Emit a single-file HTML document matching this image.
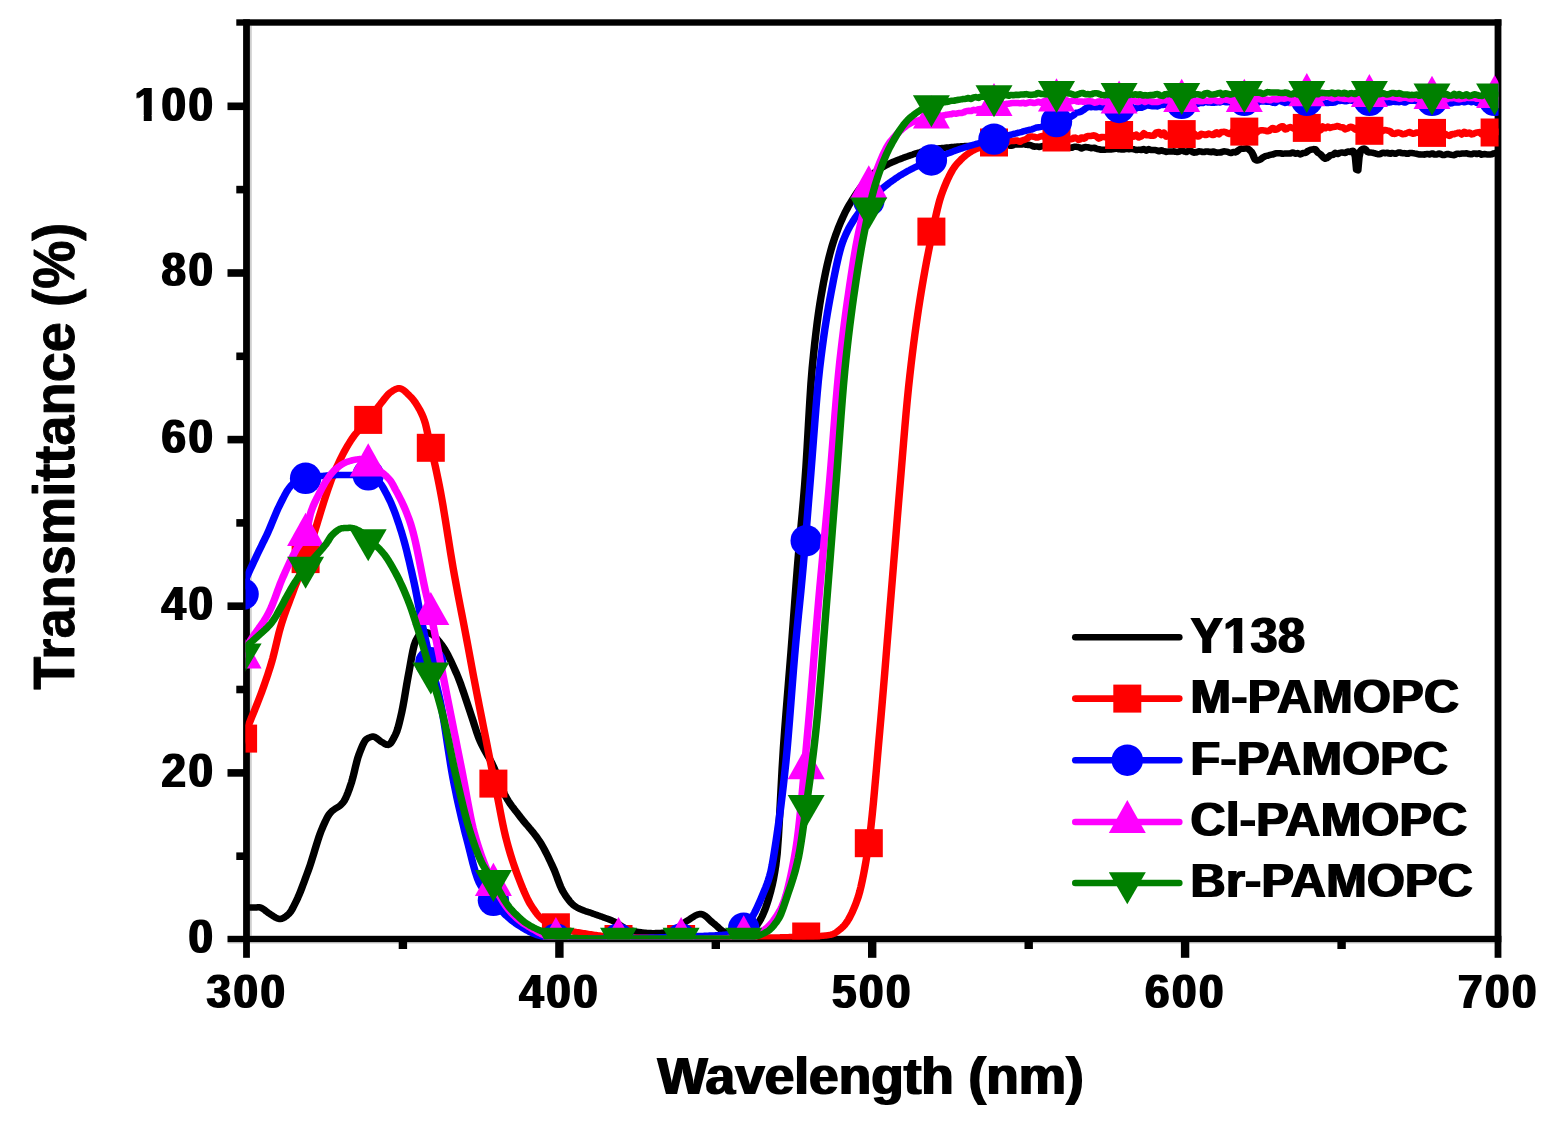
<!DOCTYPE html>
<html lang="en"><head><meta charset="utf-8"><title>Transmittance vs Wavelength</title>
<style>html,body{margin:0;padding:0;background:#fff;}body{width:1551px;height:1141px;overflow:hidden;}svg{display:block;}text{font-family:"Liberation Sans",sans-serif;font-weight:bold;fill:#000;stroke:#000;stroke-linejoin:round;stroke-width:0;}</style></head><body>
<svg width="1551" height="1141" viewBox="0 0 1551 1141">
<rect width="1551" height="1141" fill="#fff"/>
<defs>
<clipPath id="pa"><rect x="245.5" y="22.5" width="1253.1" height="916.9"/></clipPath>
<filter id="hb" x="-5%" y="-30%" width="110%" height="160%"><feMorphology operator="dilate" radius="1 0"/></filter>
</defs>
<rect x="249.9" y="25.7" width="1.9" height="910.1" fill="#cfcfcf"/>
<rect x="227.5" y="942.2" width="1273.9" height="1.6" fill="#dedede"/>
<g fill="#000">
<rect x="243.1" y="19.3" width="6.8" height="938.5"/>
<rect x="1494.6" y="19.3" width="6.8" height="938.5"/>
<rect x="236.3" y="19.3" width="1265.1" height="6.4"/>
<rect x="227.5" y="935.8" width="1273.9" height="6.4"/>
<rect x="236.3" y="852.4" width="7.8" height="7.6"/>
<rect x="227.5" y="769.1" width="16.6" height="7.6"/>
<rect x="236.3" y="685.7" width="7.8" height="7.6"/>
<rect x="227.5" y="602.4" width="16.6" height="7.6"/>
<rect x="236.3" y="519.1" width="7.8" height="7.6"/>
<rect x="227.5" y="435.8" width="16.6" height="7.6"/>
<rect x="236.3" y="352.5" width="7.8" height="7.6"/>
<rect x="227.5" y="269.2" width="16.6" height="7.6"/>
<rect x="236.3" y="185.8" width="7.8" height="7.6"/>
<rect x="227.5" y="102.5" width="16.6" height="7.6"/>
<rect x="398.7" y="941.2" width="8.4" height="7.8"/>
<rect x="555.2" y="941.2" width="8.4" height="16.6"/>
<rect x="711.6" y="941.2" width="8.4" height="7.8"/>
<rect x="868.0" y="941.2" width="8.4" height="16.6"/>
<rect x="1024.5" y="941.2" width="8.4" height="7.8"/>
<rect x="1180.9" y="941.2" width="8.4" height="16.6"/>
<rect x="1337.4" y="941.2" width="8.4" height="7.8"/>
</g>
<g clip-path="url(#pa)">
<g>
<path transform="scale(1.150 1)" d="M208.91,909.0 L209.99,908.7 L211.08,908.4 L212.17,908.1 L213.26,907.9 L214.35,907.8 L215.44,907.7 L216.52,907.6 L217.61,907.6 L218.70,907.5 L219.79,907.5 L220.88,907.4 L221.97,907.4 L223.05,907.4 L224.14,907.3 L225.23,907.3 L226.32,907.5 L227.41,908.0 L228.50,908.7 L229.58,909.6 L230.67,910.5 L231.76,911.6 L232.85,912.5 L233.94,913.4 L235.02,914.2 L236.11,914.9 L237.20,915.8 L238.29,916.6 L239.38,917.4 L240.47,918.1 L241.55,918.6 L242.64,918.9 L243.73,919.0 L244.82,918.8 L245.91,918.3 L247.00,917.7 L248.08,916.8 L249.17,915.9 L250.26,914.8 L251.35,913.7 L252.44,912.2 L253.53,910.2 L254.61,908.0 L255.70,905.5 L256.79,903.0 L257.88,900.4 L258.97,897.7 L260.05,894.8 L261.14,891.8 L262.23,888.6 L263.32,885.3 L264.41,882.0 L265.50,878.6 L266.58,875.1 L267.67,871.7 L268.76,868.2 L269.85,864.6 L270.94,860.7 L272.03,856.7 L273.11,852.6 L274.20,848.4 L275.29,844.3 L276.38,840.3 L277.47,836.5 L278.56,833.0 L279.64,829.8 L280.73,826.8 L281.82,824.0 L282.91,821.2 L284.00,818.7 L285.08,816.4 L286.17,814.4 L287.26,812.8 L288.35,811.5 L289.44,810.4 L290.53,809.5 L291.61,808.7 L292.70,807.9 L293.79,807.1 L294.88,806.3 L295.97,805.3 L297.06,804.1 L298.14,802.7 L299.23,801.0 L300.32,798.7 L301.41,795.9 L302.50,792.8 L303.59,789.4 L304.67,785.8 L305.76,782.1 L306.85,777.6 L307.94,772.5 L309.03,767.2 L310.11,762.2 L311.20,757.6 L312.29,754.0 L313.38,750.8 L314.47,747.6 L315.56,744.7 L316.64,742.2 L317.73,740.2 L318.82,739.0 L319.91,738.3 L321.00,737.6 L322.09,737.1 L323.17,736.7 L324.26,736.5 L325.35,736.7 L326.44,737.3 L327.53,738.1 L328.62,739.2 L329.70,740.2 L330.79,741.2 L331.88,741.9 L332.97,742.7 L334.06,743.5 L335.14,744.2 L336.23,744.7 L337.32,744.9 L338.41,744.5 L339.50,743.4 L340.59,741.7 L341.67,739.6 L342.76,737.2 L343.85,734.7 L344.94,731.8 L346.03,727.9 L347.12,723.2 L348.20,718.1 L349.29,712.7 L350.38,706.4 L351.47,699.4 L352.56,692.0 L353.65,684.5 L354.73,677.4 L355.82,670.8 L356.91,663.8 L358.00,656.8 L359.09,650.4 L360.17,645.1 L361.26,641.6 L362.35,639.1 L363.44,636.8 L364.53,634.8 L365.62,633.2 L366.70,632.1 L367.79,631.6 L368.88,631.6 L369.97,631.8 L371.06,632.2 L372.15,632.6 L373.23,633.2 L374.32,633.8 L375.41,634.4 L376.50,635.2 L377.59,636.2 L378.68,637.4 L379.76,638.7 L380.85,640.2 L381.94,641.7 L383.03,643.3 L384.12,644.9 L385.20,646.7 L386.29,648.6 L387.38,650.7 L388.47,652.9 L389.56,655.2 L390.65,657.7 L391.73,660.2 L392.82,662.9 L393.91,665.6 L395.00,668.4 L396.09,671.2 L397.18,674.0 L398.26,677.0 L399.35,680.2 L400.44,683.6 L401.53,687.1 L402.62,690.7 L403.71,694.4 L404.79,698.1 L405.88,701.9 L406.97,705.7 L408.06,709.4 L409.15,713.1 L410.23,716.8 L411.32,720.7 L412.41,724.6 L413.50,728.5 L414.59,732.3 L415.68,735.9 L416.76,739.1 L417.85,742.0 L418.94,744.7 L420.03,747.2 L421.12,749.5 L422.21,751.8 L423.29,754.0 L424.38,756.2 L425.47,758.4 L426.56,760.7 L427.65,763.1 L428.74,765.7 L429.82,768.5 L430.91,771.5 L432.00,774.7 L433.09,778.0 L434.18,781.3 L435.26,784.6 L436.35,787.8 L437.44,790.8 L438.53,793.7 L439.62,796.2 L440.71,798.4 L441.79,800.5 L442.88,802.4 L443.97,804.3 L445.06,806.0 L446.15,807.6 L447.24,809.3 L448.32,810.9 L449.41,812.4 L450.50,814.0 L451.59,815.7 L452.68,817.3 L453.77,818.9 L454.85,820.5 L455.94,822.0 L457.03,823.5 L458.12,824.9 L459.21,826.4 L460.29,827.9 L461.38,829.3 L462.47,830.8 L463.56,832.4 L464.65,834.0 L465.74,835.6 L466.82,837.3 L467.91,839.1 L469.00,840.9 L470.09,842.8 L471.18,844.9 L472.27,847.1 L473.35,849.4 L474.44,851.8 L475.53,854.3 L476.62,856.8 L477.71,859.4 L478.80,862.1 L479.88,864.8 L480.97,867.5 L482.06,870.3 L483.15,873.5 L484.24,876.8 L485.32,880.2 L486.41,883.5 L487.50,886.6 L488.59,889.4 L489.68,891.8 L490.77,893.8 L491.85,895.7 L492.94,897.5 L494.03,899.2 L495.12,900.8 L496.21,902.3 L497.30,903.6 L498.38,904.8 L499.47,905.8 L500.56,906.7 L501.65,907.5 L502.74,908.1 L503.83,908.8 L504.91,909.3 L506.00,909.8 L507.09,910.3 L508.18,910.8 L509.27,911.2 L510.35,911.6 L511.44,912.0 L512.53,912.4 L513.62,912.8 L514.71,913.2 L515.80,913.7 L516.88,914.1 L517.97,914.6 L519.06,915.0 L520.15,915.5 L521.24,915.9 L522.33,916.4 L523.41,916.8 L524.50,917.2 L525.59,917.7 L526.68,918.1 L527.77,918.6 L528.86,919.0 L529.94,919.5 L531.03,920.0 L532.12,920.5 L533.21,921.1 L534.30,921.7 L535.38,922.4 L536.47,923.2 L537.56,923.9 L538.65,924.7 L539.74,925.5 L540.83,926.3 L541.91,927.1 L543.00,927.9 L544.09,928.5 L545.18,929.2 L546.27,929.7 L547.36,930.2 L548.44,930.5 L549.53,930.8 L550.62,931.0 L551.71,931.2 L552.80,931.5 L553.89,931.7 L554.97,931.9 L556.06,932.1 L557.15,932.2 L558.24,932.4 L559.33,932.6 L560.41,932.7 L561.50,932.8 L562.59,932.9 L563.68,933.0 L564.77,933.1 L565.86,933.1 L566.94,933.2 L568.03,933.2 L569.12,933.2 L570.21,933.1 L571.30,933.1 L572.39,933.0 L573.47,933.0 L574.56,932.9 L575.65,932.8 L576.74,932.7 L577.83,932.5 L578.92,932.4 L580.00,932.2 L581.09,932.1 L582.18,931.9 L583.27,931.7 L584.36,931.5 L585.44,931.2 L586.53,930.6 L587.62,929.9 L588.71,928.9 L589.80,927.9 L590.89,926.8 L591.97,925.7 L593.06,924.6 L594.15,923.5 L595.24,922.6 L596.33,921.7 L597.42,920.9 L598.50,920.1 L599.59,919.3 L600.68,918.4 L601.77,917.6 L602.86,916.8 L603.95,916.0 L605.03,915.4 L606.12,914.8 L607.21,914.4 L608.30,914.1 L609.39,914.0 L610.47,914.2 L611.56,914.7 L612.65,915.4 L613.74,916.4 L614.83,917.4 L615.92,918.6 L617.00,919.8 L618.09,921.0 L619.18,922.2 L620.27,923.2 L621.36,924.1 L622.45,925.2 L623.53,926.3 L624.62,927.5 L625.71,928.6 L626.80,929.6 L627.89,930.6 L628.98,931.4 L630.06,932.0 L631.15,932.3 L632.24,932.6 L633.33,932.8 L634.42,933.0 L635.50,933.2 L636.59,933.4 L637.68,933.5 L638.77,933.7 L639.86,933.8 L640.95,933.9 L642.03,933.9 L643.12,934.0 L644.21,934.0 L645.30,933.9 L646.39,933.7 L647.48,933.4 L648.56,933.0 L649.65,932.5 L650.74,931.9 L651.83,931.3 L652.92,930.6 L654.01,929.8 L655.09,929.0 L656.18,928.0 L657.27,926.6 L658.36,924.9 L659.45,923.0 L660.53,920.9 L661.62,918.7 L662.71,916.2 L663.80,913.4 L664.89,910.4 L665.98,907.0 L667.06,903.3 L668.15,899.3 L669.24,895.0 L670.33,890.4 L671.42,885.3 L672.51,879.5 L673.59,872.6 L674.68,864.5 L675.77,854.0 L676.86,837.1 L677.95,815.5 L679.04,791.8 L680.12,768.5 L681.21,748.2 L682.30,730.9 L683.39,714.6 L684.48,699.0 L685.56,683.7 L686.65,668.5 L687.74,652.9 L688.83,636.7 L689.92,620.0 L691.01,603.1 L692.09,586.4 L693.18,570.2 L694.27,554.9 L695.36,540.9 L696.45,527.4 L697.54,514.0 L698.62,500.0 L699.71,484.8 L700.80,467.3 L701.89,446.8 L702.98,425.0 L704.07,403.5 L705.15,384.0 L706.24,368.3 L707.33,355.4 L708.42,343.6 L709.51,332.7 L710.59,322.6 L711.68,313.4 L712.77,304.9 L713.86,297.1 L714.95,289.9 L716.04,283.1 L717.12,276.7 L718.21,270.6 L719.30,264.9 L720.39,259.6 L721.48,254.6 L722.57,249.9 L723.65,245.6 L724.74,241.6 L725.83,237.9 L726.92,234.3 L728.01,230.9 L729.10,227.6 L730.18,224.5 L731.27,221.5 L732.36,218.7 L733.45,215.9 L734.54,213.3 L735.62,210.8 L736.71,208.5 L737.80,206.2 L738.89,204.0 L739.98,202.0 L741.07,199.9 L742.15,198.0 L743.24,196.0 L744.33,194.1 L745.42,192.3 L746.51,190.5 L747.60,188.7 L748.68,187.0 L749.77,185.4 L750.86,183.8 L751.95,182.2 L753.04,180.8 L754.13,179.3 L755.21,178.0 L756.30,176.7 L757.39,175.5 L758.48,174.4 L759.57,173.3 L760.65,172.3 L761.74,171.4 L762.83,170.6 L763.92,169.7 L765.01,168.9 L766.10,168.2 L767.18,167.4 L768.27,166.7 L769.36,166.0 L770.45,165.3 L771.54,164.7 L772.63,164.0 L773.71,163.4 L774.80,162.8 L775.89,162.3 L776.98,161.7 L778.07,161.2 L779.16,160.7 L780.24,160.1 L781.33,159.6 L782.42,159.2 L783.51,158.7 L784.60,158.2 L785.68,157.8 L786.77,157.3 L787.86,156.9 L788.95,156.4 L790.04,156.0 L791.13,155.5 L792.21,155.1 L793.30,154.7 L794.39,154.3 L795.48,153.8 L796.57,153.4 L797.66,153.0 L798.74,152.6 L799.83,152.3 L800.92,151.9 L802.01,151.5 L803.10,151.2 L804.19,150.9 L805.27,150.6 L806.36,150.3 L807.45,150.0 L808.54,149.8 L809.63,149.5 L810.71,149.3 L811.80,149.1 L812.89,149.0 L813.98,148.8 L815.07,148.7 L816.16,148.5 L817.24,148.3 L818.33,148.2 L819.42,148.0 L820.51,147.9 L821.60,147.8 L822.69,147.6 L823.77,147.5 L824.86,147.4 L825.95,147.3 L827.04,147.1 L828.13,147.0 L829.22,146.9 L830.30,146.8 L831.39,146.7 L832.48,146.6 L833.57,146.5 L834.66,146.4 L835.74,146.3 L836.83,146.3 L837.92,146.2 L839.01,146.1 L840.10,146.1 L841.19,146.0 L842.27,146.0 L843.36,146.0 L844.45,145.9 L845.54,145.9 L846.63,145.8 L847.72,145.7 L848.80,145.8 L849.89,145.9 L850.98,145.9 L852.07,145.9 L853.16,146.0 L854.25,146.0 L855.33,145.8 L856.42,145.6 L857.51,145.7 L858.60,145.7 L859.69,145.6 L860.77,145.5 L861.86,145.1 L862.95,144.8 L864.04,145.2 L865.13,145.6 L866.22,145.6 L867.30,145.6 L868.39,145.2 L869.48,144.8 L870.57,144.8 L871.66,144.8 L872.75,145.1 L873.83,145.3 L874.92,145.1 L876.01,145.1 L877.10,145.4 L878.19,145.7 L879.28,145.8 L880.36,145.6 L881.45,144.8 L882.54,144.3 L883.63,144.4 L884.72,144.5 L885.80,144.4 L886.89,144.4 L887.98,144.4 L889.07,144.4 L890.16,144.2 L891.25,144.2 L892.33,144.7 L893.42,144.9 L894.51,144.8 L895.60,144.9 L896.69,145.4 L897.78,146.0 L898.86,146.5 L899.95,146.7 L901.04,146.4 L902.13,146.4 L903.22,147.0 L904.31,147.0 L905.39,146.4 L906.48,146.1 L907.57,146.2 L908.66,146.4 L909.75,146.6 L910.83,146.9 L911.92,147.2 L913.01,147.1 L914.10,146.4 L915.19,146.5 L916.28,147.4 L917.36,147.6 L918.45,147.2 L919.54,147.0 L920.63,147.2 L921.72,147.3 L922.81,147.3 L923.89,147.2 L924.98,146.9 L926.07,147.0 L927.16,147.5 L928.25,147.6 L929.34,147.6 L930.42,147.7 L931.51,147.8 L932.60,147.5 L933.69,146.9 L934.78,146.7 L935.86,146.8 L936.95,146.9 L938.04,147.1 L939.13,147.7 L940.22,148.5 L941.31,148.2 L942.39,147.4 L943.48,147.1 L944.57,147.1 L945.66,147.3 L946.75,147.5 L947.84,147.8 L948.92,148.2 L950.01,148.1 L951.10,147.7 L952.19,148.0 L953.28,148.7 L954.37,149.0 L955.45,149.2 L956.54,149.5 L957.63,149.8 L958.72,149.8 L959.81,149.8 L960.89,149.7 L961.98,149.6 L963.07,149.5 L964.16,149.4 L965.25,149.4 L966.34,149.4 L967.42,149.3 L968.51,149.1 L969.60,148.8 L970.69,148.5 L971.78,148.8 L972.87,149.3 L973.95,149.3 L975.04,149.4 L976.13,149.4 L977.22,149.5 L978.31,149.1 L979.40,148.7 L980.48,148.9 L981.57,149.3 L982.66,149.1 L983.75,148.9 L984.84,149.1 L985.92,149.3 L987.01,149.7 L988.10,150.0 L989.19,149.9 L990.28,149.7 L991.37,149.8 L992.45,150.0 L993.54,149.5 L994.63,149.0 L995.72,149.8 L996.81,150.6 L997.90,149.8 L998.98,149.1 L1000.07,149.6 L1001.16,150.1 L1002.25,150.1 L1003.34,150.1 L1004.43,150.1 L1005.51,150.2 L1006.60,150.8 L1007.69,151.3 L1008.78,150.7 L1009.87,150.2 L1010.95,150.7 L1012.04,151.1 L1013.13,151.5 L1014.22,151.9 L1015.31,151.6 L1016.40,151.4 L1017.48,151.4 L1018.57,151.4 L1019.66,151.4 L1020.75,151.3 L1021.84,151.7 L1022.93,151.9 L1024.01,151.9 L1025.10,151.8 L1026.19,151.1 L1027.28,150.5 L1028.37,150.8 L1029.46,151.2 L1030.54,151.7 L1031.63,152.0 L1032.72,151.3 L1033.81,150.7 L1034.90,150.9 L1035.98,151.2 L1037.07,152.1 L1038.16,152.7 L1039.25,152.6 L1040.34,152.3 L1041.43,151.7 L1042.51,151.3 L1043.60,151.4 L1044.69,151.7 L1045.78,152.0 L1046.87,152.1 L1047.96,151.7 L1049.04,151.4 L1050.13,151.5 L1051.22,151.7 L1052.31,152.1 L1053.40,152.2 L1054.49,151.6 L1055.57,151.6 L1056.66,152.4 L1057.75,152.7 L1058.84,152.5 L1059.93,152.4 L1061.01,152.6 L1062.10,152.3 L1063.19,151.6 L1064.28,151.3 L1065.37,151.4 L1066.46,151.6 L1067.54,151.9 L1068.63,152.4 L1069.72,153.0 L1070.81,152.9 L1071.90,152.1 L1072.99,151.9 L1074.07,152.4 L1075.16,152.0 L1076.25,150.9 L1077.34,149.8 L1078.43,149.0 L1079.52,148.6 L1080.60,148.8 L1081.69,148.7 L1082.78,148.4 L1083.87,148.3 L1084.96,148.5 L1086.04,149.4 L1087.13,150.7 L1088.22,151.8 L1089.31,154.1 L1090.40,157.2 L1091.49,159.7 L1092.57,160.5 L1093.66,160.4 L1094.75,160.1 L1095.84,159.6 L1096.93,158.6 L1098.02,157.6 L1099.10,156.9 L1100.19,156.2 L1101.28,155.9 L1102.37,155.7 L1103.46,155.3 L1104.55,154.9 L1105.63,154.6 L1106.72,154.5 L1107.81,154.0 L1108.90,153.5 L1109.99,153.3 L1111.07,153.3 L1112.16,153.3 L1113.25,153.3 L1114.34,153.5 L1115.43,153.8 L1116.52,153.6 L1117.60,153.4 L1118.69,153.4 L1119.78,153.6 L1120.87,153.6 L1121.96,153.5 L1123.05,153.0 L1124.13,152.4 L1125.22,152.9 L1126.31,153.7 L1127.40,153.5 L1128.49,153.1 L1129.58,153.6 L1130.66,154.4 L1131.75,153.8 L1132.84,153.0 L1133.93,153.1 L1135.02,153.1 L1136.10,152.2 L1137.19,151.1 L1138.28,150.4 L1139.37,149.9 L1140.46,149.5 L1141.55,149.5 L1142.63,149.1 L1143.72,149.3 L1144.81,150.9 L1145.90,152.6 L1146.99,153.4 L1148.08,154.0 L1149.16,155.4 L1150.25,156.8 L1151.34,158.0 L1152.43,158.7 L1153.52,158.3 L1154.61,157.5 L1155.69,156.4 L1156.78,155.2 L1157.87,155.1 L1158.96,155.1 L1160.05,153.9 L1161.13,152.9 L1162.22,153.5 L1163.31,154.0 L1164.40,153.3 L1165.49,152.7 L1166.58,152.6 L1167.66,152.5 L1168.75,152.9 L1169.84,153.1 L1170.93,152.2 L1172.02,151.5 L1173.11,151.8 L1174.19,151.9 L1175.28,151.1 L1176.37,150.7 L1177.46,152.5 L1178.55,156.7 L1179.64,169.9 L1180.72,170.4 L1181.81,156.8 L1182.90,151.2 L1183.99,149.7 L1185.08,148.9 L1186.16,148.5 L1187.25,149.2 L1188.34,150.8 L1189.43,152.1 L1190.52,152.6 L1191.61,152.4 L1192.69,152.6 L1193.78,152.8 L1194.87,153.1 L1195.96,153.5 L1197.05,153.9 L1198.14,154.2 L1199.22,154.3 L1200.31,154.1 L1201.40,153.2 L1202.49,152.7 L1203.58,153.0 L1204.67,153.2 L1205.75,152.8 L1206.84,152.8 L1207.93,153.6 L1209.02,153.7 L1210.11,153.0 L1211.19,152.9 L1212.28,153.6 L1213.37,153.8 L1214.46,153.2 L1215.55,152.8 L1216.64,152.4 L1217.72,152.5 L1218.81,153.1 L1219.90,153.3 L1220.99,153.1 L1222.08,153.3 L1223.17,153.8 L1224.25,153.8 L1225.34,153.2 L1226.43,152.9 L1227.52,152.9 L1228.61,153.1 L1229.70,153.4 L1230.78,153.6 L1231.87,153.8 L1232.96,154.1 L1234.05,154.5 L1235.14,154.6 L1236.22,154.4 L1237.31,154.4 L1238.40,154.7 L1239.49,154.4 L1240.58,153.9 L1241.67,153.9 L1242.75,154.5 L1243.84,154.2 L1244.93,153.5 L1246.02,153.6 L1247.11,154.4 L1248.20,154.5 L1249.28,154.4 L1250.37,154.0 L1251.46,153.5 L1252.55,153.9 L1253.64,154.7 L1254.73,155.0 L1255.81,155.1 L1256.90,154.6 L1257.99,154.0 L1259.08,154.0 L1260.17,154.3 L1261.25,154.6 L1262.34,154.9 L1263.43,155.1 L1264.52,155.2 L1265.61,154.6 L1266.70,153.7 L1267.78,153.7 L1268.87,153.9 L1269.96,153.8 L1271.05,153.6 L1272.14,153.5 L1273.23,153.6 L1274.31,153.5 L1275.40,153.3 L1276.49,153.7 L1277.58,154.1 L1278.67,154.2 L1279.76,154.2 L1280.84,153.8 L1281.93,153.4 L1283.02,153.7 L1284.11,154.0 L1285.20,153.7 L1286.28,153.3 L1287.37,154.0 L1288.46,154.7 L1289.55,154.4 L1290.64,154.0 L1291.73,154.2 L1292.81,154.4 L1293.90,154.4 L1294.99,154.4 L1296.08,154.4 L1297.17,154.3 L1298.26,153.8 L1299.34,153.2 L1300.43,153.1 L1301.52,152.9 L1302.61,153.4 L1303.70,154.0" fill="none" stroke="#000000" stroke-width="6.5" stroke-linejoin="round" stroke-linecap="butt"/>
</g>
<g>
<path transform="scale(1.150 1)" d="M208.91,747.4 L209.99,743.3 L211.08,739.5 L212.17,736.1 L213.26,732.9 L214.35,729.9 L215.44,726.9 L216.52,723.9 L217.61,720.8 L218.70,717.7 L219.79,714.6 L220.88,711.6 L221.97,708.5 L223.05,705.4 L224.14,702.2 L225.23,699.0 L226.32,695.8 L227.41,692.4 L228.50,689.0 L229.58,685.5 L230.67,681.9 L231.76,678.3 L232.85,674.6 L233.94,670.7 L235.02,666.8 L236.11,662.6 L237.20,658.2 L238.29,653.3 L239.38,648.1 L240.47,642.8 L241.55,637.6 L242.64,632.5 L243.73,627.9 L244.82,623.7 L245.91,619.8 L247.00,616.1 L248.08,612.5 L249.17,609.1 L250.26,605.7 L251.35,602.4 L252.44,599.1 L253.53,595.7 L254.61,592.4 L255.70,589.1 L256.79,585.8 L257.88,582.6 L258.97,579.5 L260.05,576.3 L261.14,573.1 L262.23,569.9 L263.32,566.6 L264.41,563.3 L265.50,559.9 L266.58,556.4 L267.67,552.8 L268.76,549.1 L269.85,545.3 L270.94,541.4 L272.03,537.4 L273.11,533.4 L274.20,529.4 L275.29,525.3 L276.38,521.2 L277.47,517.1 L278.56,513.0 L279.64,509.0 L280.73,505.0 L281.82,501.0 L282.91,497.1 L284.00,493.3 L285.08,489.6 L286.17,486.0 L287.26,482.5 L288.35,479.1 L289.44,476.0 L290.53,472.9 L291.61,470.0 L292.70,467.3 L293.79,464.6 L294.88,461.9 L295.97,459.3 L297.06,456.8 L298.14,454.3 L299.23,451.9 L300.32,449.6 L301.41,447.4 L302.50,445.2 L303.59,443.2 L304.67,441.2 L305.76,439.3 L306.85,437.5 L307.94,435.7 L309.03,434.1 L310.11,432.7 L311.20,431.2 L312.29,429.9 L313.38,428.6 L314.47,427.3 L315.56,426.1 L316.64,424.8 L317.73,423.5 L318.82,422.1 L319.91,420.7 L321.00,419.2 L322.09,417.6 L323.17,415.9 L324.26,414.2 L325.35,412.5 L326.44,410.8 L327.53,409.0 L328.62,407.3 L329.70,405.6 L330.79,404.0 L331.88,402.4 L332.97,400.8 L334.06,399.2 L335.14,397.6 L336.23,396.1 L337.32,394.7 L338.41,393.4 L339.50,392.4 L340.59,391.6 L341.67,390.7 L342.76,389.9 L343.85,389.2 L344.94,388.7 L346.03,388.3 L347.12,388.3 L348.20,388.5 L349.29,389.0 L350.38,389.7 L351.47,390.7 L352.56,391.7 L353.65,392.9 L354.73,394.1 L355.82,395.4 L356.91,396.6 L358.00,397.9 L359.09,399.4 L360.17,401.0 L361.26,402.8 L362.35,404.8 L363.44,406.8 L364.53,408.9 L365.62,411.2 L366.70,413.8 L367.79,416.6 L368.88,419.9 L369.97,423.9 L371.06,429.1 L372.15,435.1 L373.23,441.2 L374.32,446.9 L375.41,451.9 L376.50,456.6 L377.59,461.6 L378.68,467.0 L379.76,472.8 L380.85,478.8 L381.94,485.1 L383.03,491.6 L384.12,498.4 L385.20,505.6 L386.29,513.1 L387.38,520.8 L388.47,528.6 L389.56,536.5 L390.65,544.4 L391.73,552.2 L392.82,559.8 L393.91,567.2 L395.00,574.2 L396.09,581.1 L397.18,587.8 L398.26,594.4 L399.35,601.0 L400.44,607.5 L401.53,613.9 L402.62,620.3 L403.71,626.8 L404.79,633.3 L405.88,639.9 L406.97,646.5 L408.06,653.2 L409.15,660.0 L410.23,666.7 L411.32,673.4 L412.41,680.0 L413.50,686.5 L414.59,693.0 L415.68,699.4 L416.76,705.7 L417.85,712.1 L418.94,718.4 L420.03,724.7 L421.12,731.0 L422.21,737.3 L423.29,743.6 L424.38,750.0 L425.47,756.3 L426.56,762.5 L427.65,768.6 L428.74,774.6 L429.82,780.6 L430.91,786.7 L432.00,793.0 L433.09,799.6 L434.18,806.2 L435.26,812.7 L436.35,819.2 L437.44,825.4 L438.53,831.2 L439.62,836.5 L440.71,841.4 L441.79,846.0 L442.88,850.4 L443.97,854.6 L445.06,858.6 L446.15,862.5 L447.24,866.2 L448.32,869.8 L449.41,873.2 L450.50,876.6 L451.59,879.8 L452.68,883.0 L453.77,886.1 L454.85,889.2 L455.94,892.1 L457.03,894.9 L458.12,897.6 L459.21,900.2 L460.29,902.5 L461.38,904.7 L462.47,906.6 L463.56,908.5 L464.65,910.3 L465.74,912.1 L466.82,913.7 L467.91,915.3 L469.00,916.7 L470.09,918.0 L471.18,919.2 L472.27,920.2 L473.35,921.1 L474.44,921.9 L475.53,922.7 L476.62,923.4 L477.71,924.1 L478.80,924.7 L479.88,925.3 L480.97,925.9 L482.06,926.4 L483.15,926.9 L484.24,927.3 L485.32,927.8 L486.41,928.2 L487.50,928.5 L488.59,928.9 L489.68,929.2 L490.77,929.6 L491.85,929.9 L492.94,930.2 L494.03,930.5 L495.12,930.7 L496.21,931.0 L497.30,931.2 L498.38,931.5 L499.47,931.7 L500.56,931.9 L501.65,932.1 L502.74,932.3 L503.83,932.5 L504.91,932.7 L506.00,932.9 L507.09,933.1 L508.18,933.3 L509.27,933.5 L510.35,933.7 L511.44,933.9 L512.53,934.1 L513.62,934.3 L514.71,934.5 L515.80,934.7 L516.88,934.9 L517.97,935.0 L519.06,935.2 L520.15,935.4 L521.24,935.5 L522.33,935.7 L523.41,935.9 L524.50,936.0 L525.59,936.2 L526.68,936.3 L527.77,936.4 L528.86,936.5 L529.94,936.7 L531.03,936.8 L532.12,936.9 L533.21,937.0 L534.30,937.0 L535.38,937.1 L536.47,937.2 L537.56,937.2 L538.65,937.3 L539.74,937.3 L540.83,937.3 L541.91,937.4 L543.00,937.4 L544.09,937.4 L545.18,937.4 L546.27,937.4 L547.36,937.4 L548.44,937.4 L549.53,937.5 L550.62,937.5 L551.71,937.5 L552.80,937.5 L553.89,937.5 L554.97,937.5 L556.06,937.5 L557.15,937.5 L558.24,937.6 L559.33,937.6 L560.41,937.6 L561.50,937.6 L562.59,937.6 L563.68,937.6 L564.77,937.6 L565.86,937.6 L566.94,937.6 L568.03,937.6 L569.12,937.7 L570.21,937.7 L571.30,937.7 L572.39,937.7 L573.47,937.7 L574.56,937.7 L575.65,937.7 L576.74,937.7 L577.83,937.7 L578.92,937.7 L580.00,937.7 L581.09,937.7 L582.18,937.7 L583.27,937.7 L584.36,937.7 L585.44,937.7 L586.53,937.7 L587.62,937.7 L588.71,937.7 L589.80,937.7 L590.89,937.7 L591.97,937.7 L593.06,937.7 L594.15,937.8 L595.24,937.8 L596.33,937.8 L597.42,937.8 L598.50,937.8 L599.59,937.8 L600.68,937.8 L601.77,937.8 L602.86,937.8 L603.95,937.8 L605.03,937.8 L606.12,937.8 L607.21,937.8 L608.30,937.8 L609.39,937.8 L610.47,937.8 L611.56,937.8 L612.65,937.8 L613.74,937.8 L614.83,937.8 L615.92,937.8 L617.00,937.8 L618.09,937.8 L619.18,937.8 L620.27,937.8 L621.36,937.8 L622.45,937.8 L623.53,937.8 L624.62,937.8 L625.71,937.8 L626.80,937.8 L627.89,937.8 L628.98,937.8 L630.06,937.8 L631.15,937.8 L632.24,937.8 L633.33,937.8 L634.42,937.8 L635.50,937.8 L636.59,937.8 L637.68,937.8 L638.77,937.8 L639.86,937.8 L640.95,937.8 L642.03,937.8 L643.12,937.8 L644.21,937.8 L645.30,937.8 L646.39,937.8 L647.48,937.8 L648.56,937.8 L649.65,937.8 L650.74,937.7 L651.83,937.7 L652.92,937.7 L654.01,937.7 L655.09,937.7 L656.18,937.7 L657.27,937.7 L658.36,937.7 L659.45,937.7 L660.53,937.7 L661.62,937.7 L662.71,937.7 L663.80,937.7 L664.89,937.6 L665.98,937.6 L667.06,937.6 L668.15,937.6 L669.24,937.6 L670.33,937.5 L671.42,937.5 L672.51,937.5 L673.59,937.5 L674.68,937.5 L675.77,937.4 L676.86,937.4 L677.95,937.4 L679.04,937.3 L680.12,937.3 L681.21,937.3 L682.30,937.3 L683.39,937.2 L684.48,937.2 L685.56,937.2 L686.65,937.1 L687.74,937.1 L688.83,937.1 L689.92,937.0 L691.01,937.0 L692.09,937.0 L693.18,936.9 L694.27,936.9 L695.36,936.8 L696.45,936.8 L697.54,936.8 L698.62,936.7 L699.71,936.7 L700.80,936.6 L701.89,936.6 L702.98,936.5 L704.07,936.5 L705.15,936.5 L706.24,936.4 L707.33,936.4 L708.42,936.3 L709.51,936.2 L710.59,936.2 L711.68,936.1 L712.77,936.0 L713.86,935.9 L714.95,935.8 L716.04,935.7 L717.12,935.6 L718.21,935.4 L719.30,935.3 L720.39,935.1 L721.48,934.9 L722.57,934.7 L723.65,934.4 L724.74,933.9 L725.83,933.3 L726.92,932.5 L728.01,931.7 L729.10,930.7 L730.18,929.7 L731.27,928.6 L732.36,927.5 L733.45,926.3 L734.54,924.9 L735.62,923.3 L736.71,921.5 L737.80,919.5 L738.89,917.3 L739.98,914.8 L741.07,912.2 L742.15,909.4 L743.24,906.4 L744.33,903.2 L745.42,899.8 L746.51,896.0 L747.60,891.6 L748.68,886.6 L749.77,880.9 L750.86,874.7 L751.95,868.1 L753.04,860.9 L754.13,853.3 L755.21,845.3 L756.30,836.5 L757.39,826.1 L758.48,814.4 L759.57,801.7 L760.65,788.1 L761.74,774.0 L762.83,759.5 L763.92,745.1 L765.01,730.9 L766.10,716.8 L767.18,702.3 L768.27,687.5 L769.36,672.4 L770.45,657.0 L771.54,641.6 L772.63,626.2 L773.71,610.8 L774.80,595.6 L775.89,580.3 L776.98,564.8 L778.07,549.4 L779.16,533.9 L780.24,518.5 L781.33,503.2 L782.42,488.2 L783.51,473.3 L784.60,458.1 L785.68,442.9 L786.77,427.9 L787.86,413.5 L788.95,399.9 L790.04,387.4 L791.13,375.9 L792.21,365.0 L793.30,354.5 L794.39,344.5 L795.48,335.0 L796.57,325.9 L797.66,317.1 L798.74,308.7 L799.83,300.6 L800.92,292.8 L802.01,285.3 L803.10,278.0 L804.19,271.0 L805.27,264.2 L806.36,257.6 L807.45,251.2 L808.54,245.0 L809.63,238.8 L810.71,232.6 L811.80,226.5 L812.89,220.5 L813.98,214.8 L815.07,209.4 L816.16,204.4 L817.24,199.8 L818.33,195.9 L819.42,192.4 L820.51,189.1 L821.60,185.9 L822.69,182.9 L823.77,180.0 L824.86,177.4 L825.95,174.8 L827.04,172.5 L828.13,170.3 L829.22,168.3 L830.30,166.5 L831.39,164.9 L832.48,163.4 L833.57,162.1 L834.66,160.8 L835.74,159.5 L836.83,158.3 L837.92,157.2 L839.01,156.1 L840.10,155.1 L841.19,154.2 L842.27,153.3 L843.36,152.4 L844.45,151.7 L845.54,150.9 L846.63,150.3 L847.72,149.7 L848.80,149.1 L849.89,148.6 L850.98,148.2 L852.07,147.7 L853.16,147.3 L854.25,146.9 L855.33,146.5 L856.42,146.1 L857.51,145.8 L858.60,145.5 L859.69,145.0 L860.77,144.4 L861.86,144.2 L862.95,143.9 L864.04,143.7 L865.13,143.5 L866.22,143.1 L867.30,142.7 L868.39,142.5 L869.48,142.4 L870.57,142.7 L871.66,143.1 L872.75,143.1 L873.83,143.2 L874.92,142.9 L876.01,142.5 L877.10,141.7 L878.19,140.9 L879.28,141.0 L880.36,141.1 L881.45,141.0 L882.54,140.8 L883.63,140.5 L884.72,140.4 L885.80,141.3 L886.89,141.8 L887.98,141.0 L889.07,140.3 L890.16,140.0 L891.25,139.6 L892.33,139.1 L893.42,138.4 L894.51,137.2 L895.60,136.4 L896.69,136.5 L897.78,136.6 L898.86,136.8 L899.95,137.0 L901.04,137.5 L902.13,137.6 L903.22,137.1 L904.31,136.6 L905.39,136.2 L906.48,136.0 L907.57,136.5 L908.66,137.3 L909.75,138.7 L910.83,139.4 L911.92,139.0 L913.01,138.7 L914.10,138.6 L915.19,139.0 L916.28,140.3 L917.36,140.7 L918.45,140.1 L919.54,139.9 L920.63,140.5 L921.72,140.3 L922.81,139.1 L923.89,138.8 L924.98,139.6 L926.07,139.7 L927.16,139.2 L928.25,138.9 L929.34,138.8 L930.42,138.9 L931.51,139.3 L932.60,138.9 L933.69,137.8 L934.78,137.6 L935.86,138.0 L936.95,138.8 L938.04,139.9 L939.13,139.3 L940.22,137.5 L941.31,137.4 L942.39,138.6 L943.48,138.2 L944.57,136.7 L945.66,136.1 L946.75,136.1 L947.84,136.0 L948.92,135.9 L950.01,135.7 L951.10,135.3 L952.19,135.6 L953.28,136.4 L954.37,137.4 L955.45,138.6 L956.54,138.1 L957.63,136.9 L958.72,136.9 L959.81,137.1 L960.89,137.2 L961.98,137.4 L963.07,137.1 L964.16,136.6 L965.25,136.7 L966.34,137.0 L967.42,137.0 L968.51,136.8 L969.60,136.2 L970.69,135.4 L971.78,135.4 L972.87,135.5 L973.95,134.6 L975.04,133.6 L976.13,134.4 L977.22,135.7 L978.31,134.7 L979.40,133.2 L980.48,134.1 L981.57,135.6 L982.66,135.3 L983.75,134.7 L984.84,135.5 L985.92,136.6 L987.01,135.8 L988.10,134.7 L989.19,136.0 L990.28,137.5 L991.37,136.9 L992.45,136.2 L993.54,134.8 L994.63,133.3 L995.72,134.2 L996.81,135.3 L997.90,135.3 L998.98,135.3 L1000.07,135.5 L1001.16,135.8 L1002.25,135.8 L1003.34,135.8 L1004.43,134.1 L1005.51,132.4 L1006.60,132.2 L1007.69,132.0 L1008.78,133.6 L1009.87,135.0 L1010.95,133.6 L1012.04,132.6 L1013.13,134.7 L1014.22,136.7 L1015.31,136.4 L1016.40,136.1 L1017.48,135.5 L1018.57,135.0 L1019.66,135.4 L1020.75,135.7 L1021.84,135.6 L1022.93,135.2 L1024.01,135.2 L1025.10,135.1 L1026.19,134.1 L1027.28,133.4 L1028.37,134.0 L1029.46,134.3 L1030.54,133.3 L1031.63,132.5 L1032.72,133.4 L1033.81,134.3 L1034.90,134.9 L1035.98,135.2 L1037.07,133.9 L1038.16,133.3 L1039.25,134.9 L1040.34,136.1 L1041.43,136.5 L1042.51,136.5 L1043.60,134.9 L1044.69,133.8 L1045.78,134.2 L1046.87,134.5 L1047.96,134.9 L1049.04,134.9 L1050.13,134.0 L1051.22,133.6 L1052.31,134.1 L1053.40,134.6 L1054.49,135.1 L1055.57,134.8 L1056.66,133.0 L1057.75,132.4 L1058.84,133.8 L1059.93,134.3 L1061.01,132.9 L1062.10,132.0 L1063.19,131.9 L1064.28,131.8 L1065.37,131.9 L1066.46,132.4 L1067.54,133.4 L1068.63,134.0 L1069.72,134.0 L1070.81,133.2 L1071.90,131.3 L1072.99,130.5 L1074.07,131.1 L1075.16,131.9 L1076.25,132.8 L1077.34,132.5 L1078.43,130.9 L1079.52,130.5 L1080.60,131.3 L1081.69,131.2 L1082.78,130.4 L1083.87,130.8 L1084.96,132.4 L1086.04,132.9 L1087.13,132.5 L1088.22,132.7 L1089.31,133.4 L1090.40,133.6 L1091.49,133.5 L1092.57,132.7 L1093.66,131.3 L1094.75,130.7 L1095.84,130.5 L1096.93,130.3 L1098.02,130.3 L1099.10,130.4 L1100.19,130.7 L1101.28,131.0 L1102.37,131.3 L1103.46,130.9 L1104.55,130.0 L1105.63,129.0 L1106.72,128.0 L1107.81,128.5 L1108.90,129.8 L1109.99,129.6 L1111.07,128.8 L1112.16,127.9 L1113.25,127.0 L1114.34,126.5 L1115.43,126.2 L1116.52,127.6 L1117.60,129.5 L1118.69,129.1 L1119.78,128.0 L1120.87,127.5 L1121.96,127.1 L1123.05,127.5 L1124.13,128.1 L1125.22,128.7 L1126.31,129.3 L1127.40,129.0 L1128.49,128.5 L1129.58,128.7 L1130.66,129.1 L1131.75,129.2 L1132.84,129.2 L1133.93,129.9 L1135.02,130.8 L1136.10,130.8 L1137.19,130.6 L1138.28,129.5 L1139.37,128.3 L1140.46,129.3 L1141.55,130.5 L1142.63,129.2 L1143.72,127.6 L1144.81,127.4 L1145.90,127.4 L1146.99,128.9 L1148.08,130.3 L1149.16,128.5 L1150.25,126.5 L1151.34,127.3 L1152.43,128.2 L1153.52,127.3 L1154.61,126.5 L1155.69,127.2 L1156.78,127.9 L1157.87,127.4 L1158.96,127.0 L1160.05,126.9 L1161.13,126.7 L1162.22,126.3 L1163.31,125.9 L1164.40,126.6 L1165.49,127.2 L1166.58,127.2 L1167.66,127.2 L1168.75,128.4 L1169.84,129.4 L1170.93,128.9 L1172.02,128.3 L1173.11,127.5 L1174.19,126.8 L1175.28,127.0 L1176.37,127.3 L1177.46,128.6 L1178.55,129.5 L1179.64,128.2 L1180.72,127.4 L1181.81,128.4 L1182.90,129.0 L1183.99,128.1 L1185.08,127.7 L1186.16,129.2 L1187.25,130.3 L1188.34,129.8 L1189.43,129.2 L1190.52,128.4 L1191.61,128.2 L1192.69,129.9 L1193.78,131.2 L1194.87,131.1 L1195.96,130.8 L1197.05,130.4 L1198.14,130.2 L1199.22,130.8 L1200.31,131.4 L1201.40,131.3 L1202.49,131.0 L1203.58,130.2 L1204.67,129.9 L1205.75,130.4 L1206.84,130.7 L1207.93,130.8 L1209.02,131.4 L1210.11,132.8 L1211.19,133.7 L1212.28,133.9 L1213.37,133.8 L1214.46,132.9 L1215.55,132.5 L1216.64,132.7 L1217.72,133.1 L1218.81,133.7 L1219.90,134.2 L1220.99,134.1 L1222.08,133.8 L1223.17,133.1 L1224.25,132.6 L1225.34,132.0 L1226.43,132.3 L1227.52,133.3 L1228.61,133.7 L1229.70,133.5 L1230.78,133.0 L1231.87,132.4 L1232.96,132.5 L1234.05,133.1 L1235.14,132.7 L1236.22,131.5 L1237.31,131.3 L1238.40,131.9 L1239.49,132.2 L1240.58,132.3 L1241.67,132.5 L1242.75,132.8 L1243.84,133.3 L1244.93,134.0 L1246.02,134.1 L1247.11,133.9 L1248.20,133.7 L1249.28,133.6 L1250.37,133.4 L1251.46,133.1 L1252.55,133.8 L1253.64,135.0 L1254.73,134.7 L1255.81,133.7 L1256.90,133.9 L1257.99,134.8 L1259.08,135.4 L1260.17,135.9 L1261.25,135.3 L1262.34,134.1 L1263.43,133.9 L1264.52,134.2 L1265.61,133.8 L1266.70,133.2 L1267.78,132.8 L1268.87,132.6 L1269.96,133.4 L1271.05,134.5 L1272.14,133.4 L1273.23,131.8 L1274.31,132.5 L1275.40,133.8 L1276.49,133.4 L1277.58,132.6 L1278.67,133.3 L1279.76,134.4 L1280.84,134.1 L1281.93,133.5 L1283.02,132.9 L1284.11,132.4 L1285.20,132.3 L1286.28,132.1 L1287.37,133.2 L1288.46,134.3 L1289.55,134.8 L1290.64,135.1 L1291.73,134.2 L1292.81,133.2 L1293.90,133.9 L1294.99,134.6 L1296.08,134.8 L1297.17,135.0 L1298.26,134.1 L1299.34,133.2 L1300.43,132.4 L1301.52,131.5 L1302.61,133.1 L1303.70,134.8" fill="none" stroke="#ff0000" stroke-width="6.5" stroke-linejoin="round" stroke-linecap="butt"/>
<rect x="229.1" y="724.6" width="28.0" height="28.0" fill="#ff0000"/>
<rect x="291.6" y="545.1" width="28.0" height="28.0" fill="#ff0000"/>
<rect x="354.2" y="405.9" width="28.0" height="28.0" fill="#ff0000"/>
<rect x="416.8" y="433.8" width="28.0" height="28.0" fill="#ff0000"/>
<rect x="479.4" y="769.6" width="28.0" height="28.0" fill="#ff0000"/>
<rect x="541.9" y="913.3" width="28.0" height="28.0" fill="#ff0000"/>
<rect x="604.5" y="925.0" width="28.0" height="28.0" fill="#ff0000"/>
<rect x="667.1" y="925.0" width="28.0" height="28.0" fill="#ff0000"/>
<rect x="729.7" y="924.2" width="28.0" height="28.0" fill="#ff0000"/>
<rect x="792.2" y="922.5" width="28.0" height="28.0" fill="#ff0000"/>
<rect x="854.8" y="829.2" width="28.0" height="28.0" fill="#ff0000"/>
<rect x="917.4" y="217.6" width="28.0" height="28.0" fill="#ff0000"/>
<rect x="980.0" y="128.5" width="28.0" height="28.0" fill="#ff0000"/>
<rect x="1042.5" y="123.5" width="28.0" height="28.0" fill="#ff0000"/>
<rect x="1105.1" y="121.0" width="28.0" height="28.0" fill="#ff0000"/>
<rect x="1167.7" y="120.1" width="28.0" height="28.0" fill="#ff0000"/>
<rect x="1230.3" y="117.6" width="28.0" height="28.0" fill="#ff0000"/>
<rect x="1292.8" y="113.9" width="28.0" height="28.0" fill="#ff0000"/>
<rect x="1355.4" y="116.8" width="28.0" height="28.0" fill="#ff0000"/>
<rect x="1418.0" y="118.9" width="28.0" height="28.0" fill="#ff0000"/>
<rect x="1480.6" y="118.5" width="28.0" height="28.0" fill="#ff0000"/>
</g>
<g>
<path transform="scale(1.150 1)" d="M208.91,592.4 L209.99,589.4 L211.08,586.5 L212.17,583.5 L213.26,580.6 L214.35,577.7 L215.44,574.9 L216.52,572.1 L217.61,569.4 L218.70,566.7 L219.79,564.0 L220.88,561.3 L221.97,558.7 L223.05,556.1 L224.14,553.4 L225.23,550.8 L226.32,548.2 L227.41,545.7 L228.50,543.1 L229.58,540.6 L230.67,538.0 L231.76,535.4 L232.85,532.7 L233.94,529.9 L235.02,527.0 L236.11,523.9 L237.20,520.9 L238.29,517.8 L239.38,514.8 L240.47,511.8 L241.55,509.0 L242.64,506.4 L243.73,503.9 L244.82,501.4 L245.91,498.9 L247.00,496.5 L248.08,494.1 L249.17,491.9 L250.26,489.9 L251.35,488.1 L252.44,486.5 L253.53,485.1 L254.61,483.8 L255.70,482.6 L256.79,481.5 L257.88,480.7 L258.97,480.0 L260.05,479.6 L261.14,479.3 L262.23,479.0 L263.32,478.8 L264.41,478.6 L265.50,478.4 L266.58,478.1 L267.67,477.9 L268.76,477.7 L269.85,477.5 L270.94,477.3 L272.03,477.1 L273.11,476.9 L274.20,476.7 L275.29,476.6 L276.38,476.4 L277.47,476.3 L278.56,476.1 L279.64,476.0 L280.73,475.9 L281.82,475.8 L282.91,475.7 L284.00,475.6 L285.08,475.6 L286.17,475.5 L287.26,475.4 L288.35,475.4 L289.44,475.3 L290.53,475.2 L291.61,475.2 L292.70,475.1 L293.79,475.1 L294.88,475.0 L295.97,475.0 L297.06,475.0 L298.14,475.0 L299.23,474.9 L300.32,474.9 L301.41,474.9 L302.50,474.9 L303.59,474.9 L304.67,475.0 L305.76,475.0 L306.85,475.0 L307.94,475.1 L309.03,475.1 L310.11,475.2 L311.20,475.2 L312.29,475.3 L313.38,475.4 L314.47,475.5 L315.56,475.6 L316.64,475.6 L317.73,475.8 L318.82,475.9 L319.91,476.2 L321.00,476.5 L322.09,476.9 L323.17,477.4 L324.26,478.0 L325.35,478.7 L326.44,479.4 L327.53,480.1 L328.62,481.0 L329.70,482.1 L330.79,483.6 L331.88,485.3 L332.97,487.3 L334.06,489.5 L335.14,491.8 L336.23,494.2 L337.32,496.6 L338.41,499.1 L339.50,501.7 L340.59,504.6 L341.67,507.6 L342.76,510.8 L343.85,514.1 L344.94,517.6 L346.03,521.2 L347.12,524.9 L348.20,528.8 L349.29,532.7 L350.38,537.0 L351.47,541.4 L352.56,546.1 L353.65,550.9 L354.73,556.0 L355.82,561.2 L356.91,566.6 L358.00,572.0 L359.09,577.6 L360.17,583.2 L361.26,589.2 L362.35,595.5 L363.44,602.1 L364.53,608.8 L365.62,615.4 L366.70,621.7 L367.79,627.7 L368.88,633.5 L369.97,639.3 L371.06,644.9 L372.15,650.5 L373.23,656.0 L374.32,661.4 L375.41,666.7 L376.50,671.7 L377.59,676.6 L378.68,681.4 L379.76,686.2 L380.85,691.3 L381.94,696.6 L383.03,702.4 L384.12,708.8 L385.20,715.8 L386.29,723.4 L387.38,731.3 L388.47,739.5 L389.56,747.7 L390.65,755.8 L391.73,763.7 L392.82,771.3 L393.91,778.3 L395.00,784.7 L396.09,790.8 L397.18,796.8 L398.26,802.6 L399.35,808.2 L400.44,813.6 L401.53,819.0 L402.62,824.1 L403.71,829.2 L404.79,834.2 L405.88,839.0 L406.97,843.9 L408.06,848.9 L409.15,853.9 L410.23,858.9 L411.32,863.7 L412.41,868.3 L413.50,872.6 L414.59,876.5 L415.68,879.9 L416.76,882.8 L417.85,885.1 L418.94,887.1 L420.03,888.9 L421.12,890.5 L422.21,891.9 L423.29,893.3 L424.38,894.6 L425.47,895.8 L426.56,897.1 L427.65,898.5 L428.74,899.9 L429.82,901.4 L430.91,903.0 L432.00,904.6 L433.09,906.2 L434.18,907.8 L435.26,909.4 L436.35,910.9 L437.44,912.4 L438.53,913.8 L439.62,915.1 L440.71,916.2 L441.79,917.4 L442.88,918.4 L443.97,919.5 L445.06,920.5 L446.15,921.5 L447.24,922.4 L448.32,923.4 L449.41,924.3 L450.50,925.1 L451.59,925.9 L452.68,926.7 L453.77,927.5 L454.85,928.3 L455.94,929.0 L457.03,929.7 L458.12,930.4 L459.21,931.1 L460.29,931.8 L461.38,932.4 L462.47,933.0 L463.56,933.6 L464.65,934.1 L465.74,934.6 L466.82,935.1 L467.91,935.4 L469.00,935.8 L470.09,936.2 L471.18,936.5 L472.27,936.8 L473.35,937.1 L474.44,937.4 L475.53,937.6 L476.62,937.8 L477.71,937.9 L478.80,938.0 L479.88,938.1 L480.97,938.2 L482.06,938.3 L483.15,938.4 L484.24,938.4 L485.32,938.5 L486.41,938.5 L487.50,938.6 L488.59,938.6 L489.68,938.6 L490.77,938.6 L491.85,938.6 L492.94,938.6 L494.03,938.6 L495.12,938.6 L496.21,938.6 L497.30,938.6 L498.38,938.6 L499.47,938.6 L500.56,938.6 L501.65,938.6 L502.74,938.5 L503.83,938.5 L504.91,938.5 L506.00,938.5 L507.09,938.5 L508.18,938.5 L509.27,938.5 L510.35,938.5 L511.44,938.5 L512.53,938.5 L513.62,938.5 L514.71,938.5 L515.80,938.4 L516.88,938.4 L517.97,938.4 L519.06,938.4 L520.15,938.4 L521.24,938.4 L522.33,938.4 L523.41,938.4 L524.50,938.4 L525.59,938.4 L526.68,938.3 L527.77,938.3 L528.86,938.3 L529.94,938.3 L531.03,938.3 L532.12,938.3 L533.21,938.3 L534.30,938.2 L535.38,938.2 L536.47,938.2 L537.56,938.2 L538.65,938.2 L539.74,938.2 L540.83,938.2 L541.91,938.2 L543.00,938.1 L544.09,938.1 L545.18,938.1 L546.27,938.1 L547.36,938.1 L548.44,938.0 L549.53,938.0 L550.62,938.0 L551.71,938.0 L552.80,938.0 L553.89,937.9 L554.97,937.9 L556.06,937.9 L557.15,937.8 L558.24,937.8 L559.33,937.8 L560.41,937.8 L561.50,937.7 L562.59,937.7 L563.68,937.7 L564.77,937.6 L565.86,937.6 L566.94,937.6 L568.03,937.5 L569.12,937.5 L570.21,937.5 L571.30,937.4 L572.39,937.4 L573.47,937.3 L574.56,937.3 L575.65,937.3 L576.74,937.2 L577.83,937.2 L578.92,937.1 L580.00,937.1 L581.09,937.1 L582.18,937.0 L583.27,937.0 L584.36,936.9 L585.44,936.9 L586.53,936.9 L587.62,936.8 L588.71,936.8 L589.80,936.7 L590.89,936.7 L591.97,936.6 L593.06,936.6 L594.15,936.5 L595.24,936.5 L596.33,936.5 L597.42,936.4 L598.50,936.4 L599.59,936.3 L600.68,936.3 L601.77,936.3 L602.86,936.2 L603.95,936.2 L605.03,936.1 L606.12,936.1 L607.21,936.1 L608.30,936.0 L609.39,936.0 L610.47,935.9 L611.56,935.9 L612.65,935.8 L613.74,935.8 L614.83,935.7 L615.92,935.7 L617.00,935.6 L618.09,935.6 L619.18,935.5 L620.27,935.4 L621.36,935.4 L622.45,935.3 L623.53,935.2 L624.62,935.2 L625.71,935.1 L626.80,935.0 L627.89,934.9 L628.98,934.8 L630.06,934.7 L631.15,934.6 L632.24,934.5 L633.33,934.3 L634.42,934.2 L635.50,934.1 L636.59,933.9 L637.68,933.7 L638.77,933.3 L639.86,932.9 L640.95,932.3 L642.03,931.7 L643.12,931.0 L644.21,930.3 L645.30,929.5 L646.39,928.6 L647.48,927.7 L648.56,926.4 L649.65,924.9 L650.74,923.1 L651.83,921.2 L652.92,919.1 L654.01,917.0 L655.09,914.9 L656.18,912.6 L657.27,910.1 L658.36,907.5 L659.45,904.8 L660.53,902.0 L661.62,899.1 L662.71,896.1 L663.80,893.1 L664.89,890.1 L665.98,887.1 L667.06,883.8 L668.15,880.2 L669.24,876.1 L670.33,871.5 L671.42,865.4 L672.51,858.0 L673.59,850.2 L674.68,842.1 L675.77,833.6 L676.86,824.8 L677.95,815.5 L679.04,805.8 L680.12,795.7 L681.21,785.0 L682.30,773.9 L683.39,762.2 L684.48,748.9 L685.56,734.3 L686.65,718.8 L687.74,702.8 L688.83,686.6 L689.92,670.8 L691.01,655.6 L692.09,641.5 L693.18,628.2 L694.27,615.5 L695.36,603.1 L696.45,590.6 L697.54,577.6 L698.62,564.1 L699.71,549.6 L700.80,534.5 L701.89,518.9 L702.98,503.3 L704.07,487.9 L705.15,472.5 L706.24,456.5 L707.33,440.2 L708.42,424.0 L709.51,408.3 L710.59,393.5 L711.68,380.0 L712.77,368.3 L713.86,357.9 L714.95,348.1 L716.04,338.9 L717.12,330.2 L718.21,322.1 L719.30,314.3 L720.39,307.0 L721.48,300.0 L722.57,293.3 L723.65,286.7 L724.74,280.3 L725.83,274.0 L726.92,267.9 L728.01,262.1 L729.10,256.7 L730.18,251.7 L731.27,247.2 L732.36,243.3 L733.45,240.0 L734.54,237.0 L735.62,234.2 L736.71,231.5 L737.80,229.0 L738.89,226.7 L739.98,224.5 L741.07,222.4 L742.15,220.4 L743.24,218.5 L744.33,216.7 L745.42,215.0 L746.51,213.3 L747.60,211.6 L748.68,210.0 L749.77,208.4 L750.86,206.9 L751.95,205.4 L753.04,204.0 L754.13,202.6 L755.21,201.3 L756.30,199.9 L757.39,198.7 L758.48,197.4 L759.57,196.2 L760.65,195.0 L761.74,193.9 L762.83,192.8 L763.92,191.7 L765.01,190.6 L766.10,189.5 L767.18,188.5 L768.27,187.5 L769.36,186.5 L770.45,185.5 L771.54,184.5 L772.63,183.5 L773.71,182.6 L774.80,181.7 L775.89,180.8 L776.98,179.9 L778.07,179.0 L779.16,178.2 L780.24,177.3 L781.33,176.5 L782.42,175.7 L783.51,174.9 L784.60,174.2 L785.68,173.4 L786.77,172.7 L787.86,172.0 L788.95,171.3 L790.04,170.6 L791.13,170.0 L792.21,169.3 L793.30,168.7 L794.39,168.0 L795.48,167.4 L796.57,166.8 L797.66,166.2 L798.74,165.7 L799.83,165.1 L800.92,164.5 L802.01,164.0 L803.10,163.4 L804.19,162.9 L805.27,162.4 L806.36,161.8 L807.45,161.3 L808.54,160.8 L809.63,160.2 L810.71,159.7 L811.80,159.2 L812.89,158.7 L813.98,158.1 L815.07,157.6 L816.16,157.1 L817.24,156.6 L818.33,156.1 L819.42,155.6 L820.51,155.1 L821.60,154.6 L822.69,154.1 L823.77,153.6 L824.86,153.1 L825.95,152.7 L827.04,152.2 L828.13,151.7 L829.22,151.3 L830.30,150.8 L831.39,150.4 L832.48,149.9 L833.57,149.5 L834.66,149.0 L835.74,148.6 L836.83,148.2 L837.92,147.8 L839.01,147.4 L840.10,147.0 L841.19,146.6 L842.27,146.2 L843.36,145.8 L844.45,145.5 L845.54,145.1 L846.63,144.7 L847.72,144.4 L848.80,144.0 L849.89,143.7 L850.98,143.3 L852.07,143.0 L853.16,142.7 L854.25,142.3 L855.33,142.0 L856.42,141.7 L857.51,141.3 L858.60,141.0 L859.69,140.7 L860.77,140.3 L861.86,140.0 L862.95,139.7 L864.04,139.3 L865.13,139.0 L866.22,138.6 L867.30,138.3 L868.39,138.0 L869.48,137.6 L870.57,137.3 L871.66,137.0 L872.75,136.6 L873.83,136.3 L874.92,136.0 L876.01,135.7 L877.10,135.3 L878.19,135.0 L879.28,134.7 L880.36,134.3 L881.45,134.0 L882.54,133.7 L883.63,133.4 L884.72,133.0 L885.80,132.6 L886.89,132.4 L887.98,132.1 L889.07,131.7 L890.16,131.2 L891.25,131.0 L892.33,130.8 L893.42,130.4 L894.51,130.0 L895.60,129.8 L896.69,129.6 L897.78,129.2 L898.86,128.6 L899.95,128.1 L901.04,127.6 L902.13,127.5 L903.22,127.3 L904.31,127.1 L905.39,126.9 L906.48,126.4 L907.57,126.0 L908.66,125.8 L909.75,125.5 L910.83,124.6 L911.92,123.8 L913.01,123.3 L914.10,122.9 L915.19,122.2 L916.28,121.7 L917.36,121.4 L918.45,121.2 L919.54,120.8 L920.63,120.6 L921.72,120.5 L922.81,120.3 L923.89,119.7 L924.98,119.1 L926.07,119.0 L927.16,118.8 L928.25,118.3 L929.34,117.7 L930.42,117.3 L931.51,116.7 L932.60,115.9 L933.69,115.0 L934.78,113.8 L935.86,112.8 L936.95,112.6 L938.04,112.3 L939.13,112.0 L940.22,111.5 L941.31,110.6 L942.39,109.8 L943.48,108.8 L944.57,107.9 L945.66,107.2 L946.75,106.9 L947.84,107.0 L948.92,107.2 L950.01,107.1 L951.10,107.1 L952.19,107.2 L953.28,107.2 L954.37,107.0 L955.45,106.9 L956.54,107.0 L957.63,107.2 L958.72,107.4 L959.81,107.6 L960.89,107.9 L961.98,108.1 L963.07,108.2 L964.16,108.4 L965.25,108.9 L966.34,109.0 L967.42,108.5 L968.51,108.1 L969.60,107.9 L970.69,107.9 L971.78,108.4 L972.87,108.9 L973.95,109.3 L975.04,109.6 L976.13,109.7 L977.22,109.5 L978.31,108.9 L979.40,108.4 L980.48,108.1 L981.57,108.2 L982.66,109.0 L983.75,109.0 L984.84,108.3 L985.92,108.3 L987.01,108.9 L988.10,108.5 L989.19,107.2 L990.28,107.0 L991.37,107.8 L992.45,107.8 L993.54,107.2 L994.63,106.7 L995.72,106.2 L996.81,105.8 L997.90,105.4 L998.98,105.5 L1000.07,105.8 L1001.16,106.0 L1002.25,106.2 L1003.34,106.2 L1004.43,106.2 L1005.51,106.3 L1006.60,106.4 L1007.69,105.9 L1008.78,105.1 L1009.87,104.9 L1010.95,105.1 L1012.04,104.9 L1013.13,104.5 L1014.22,104.6 L1015.31,105.1 L1016.40,105.0 L1017.48,104.6 L1018.57,104.1 L1019.66,103.4 L1020.75,103.2 L1021.84,103.3 L1022.93,103.3 L1024.01,103.4 L1025.10,103.3 L1026.19,103.3 L1027.28,103.4 L1028.37,103.7 L1029.46,103.1 L1030.54,102.2 L1031.63,102.6 L1032.72,103.5 L1033.81,103.8 L1034.90,103.8 L1035.98,103.8 L1037.07,103.7 L1038.16,103.6 L1039.25,103.4 L1040.34,103.6 L1041.43,103.9 L1042.51,103.4 L1043.60,102.7 L1044.69,102.8 L1045.78,103.1 L1046.87,102.5 L1047.96,101.7 L1049.04,101.9 L1050.13,102.5 L1051.22,102.6 L1052.31,102.6 L1053.40,102.7 L1054.49,102.8 L1055.57,102.7 L1056.66,102.5 L1057.75,102.4 L1058.84,102.3 L1059.93,102.3 L1061.01,102.4 L1062.10,101.8 L1063.19,101.2 L1064.28,101.5 L1065.37,102.0 L1066.46,102.2 L1067.54,102.3 L1068.63,101.9 L1069.72,101.4 L1070.81,101.4 L1071.90,101.5 L1072.99,101.7 L1074.07,101.9 L1075.16,101.7 L1076.25,101.4 L1077.34,101.5 L1078.43,101.6 L1079.52,101.9 L1080.60,102.1 L1081.69,101.4 L1082.78,100.5 L1083.87,101.0 L1084.96,101.5 L1086.04,101.4 L1087.13,101.1 L1088.22,101.3 L1089.31,101.6 L1090.40,101.9 L1091.49,102.2 L1092.57,102.4 L1093.66,102.6 L1094.75,101.8 L1095.84,101.1 L1096.93,101.3 L1098.02,101.5 L1099.10,101.6 L1100.19,101.6 L1101.28,101.7 L1102.37,101.8 L1103.46,101.6 L1104.55,101.5 L1105.63,102.1 L1106.72,102.7 L1107.81,102.8 L1108.90,102.9 L1109.99,101.9 L1111.07,101.1 L1112.16,101.0 L1113.25,101.0 L1114.34,101.5 L1115.43,102.0 L1116.52,102.5 L1117.60,102.9 L1118.69,102.6 L1119.78,102.3 L1120.87,102.4 L1121.96,102.3 L1123.05,101.8 L1124.13,101.5 L1125.22,102.1 L1126.31,102.6 L1127.40,102.6 L1128.49,102.5 L1129.58,101.6 L1130.66,101.1 L1131.75,101.7 L1132.84,102.3 L1133.93,102.5 L1135.02,102.7 L1136.10,102.7 L1137.19,102.6 L1138.28,102.6 L1139.37,102.5 L1140.46,102.0 L1141.55,101.7 L1142.63,102.1 L1143.72,102.3 L1144.81,101.8 L1145.90,101.5 L1146.99,101.8 L1148.08,102.0 L1149.16,102.1 L1150.25,102.3 L1151.34,102.6 L1152.43,102.8 L1153.52,102.9 L1154.61,103.0 L1155.69,102.8 L1156.78,102.7 L1157.87,102.7 L1158.96,102.7 L1160.05,102.6 L1161.13,102.2 L1162.22,101.2 L1163.31,100.6 L1164.40,100.9 L1165.49,100.9 L1166.58,100.6 L1167.66,100.6 L1168.75,101.1 L1169.84,101.3 L1170.93,101.2 L1172.02,100.9 L1173.11,100.4 L1174.19,100.3 L1175.28,100.7 L1176.37,100.9 L1177.46,100.8 L1178.55,101.1 L1179.64,101.7 L1180.72,101.9 L1181.81,101.5 L1182.90,101.3 L1183.99,101.6 L1185.08,101.9 L1186.16,102.1 L1187.25,102.6 L1188.34,103.2 L1189.43,103.5 L1190.52,103.4 L1191.61,103.2 L1192.69,102.8 L1193.78,102.8 L1194.87,103.1 L1195.96,103.2 L1197.05,103.0 L1198.14,102.7 L1199.22,102.4 L1200.31,102.5 L1201.40,103.1 L1202.49,103.3 L1203.58,103.3 L1204.67,103.0 L1205.75,102.5 L1206.84,102.4 L1207.93,102.6 L1209.02,102.4 L1210.11,101.8 L1211.19,101.6 L1212.28,101.8 L1213.37,101.9 L1214.46,102.0 L1215.55,102.1 L1216.64,102.2 L1217.72,101.9 L1218.81,101.3 L1219.90,101.6 L1220.99,102.5 L1222.08,102.4 L1223.17,101.6 L1224.25,101.1 L1225.34,100.7 L1226.43,100.7 L1227.52,100.8 L1228.61,100.8 L1229.70,100.6 L1230.78,100.8 L1231.87,101.1 L1232.96,101.5 L1234.05,102.0 L1235.14,102.5 L1236.22,103.1 L1237.31,103.1 L1238.40,102.8 L1239.49,102.8 L1240.58,103.0 L1241.67,102.6 L1242.75,102.1 L1243.84,101.8 L1244.93,101.8 L1246.02,101.8 L1247.11,102.0 L1248.20,101.8 L1249.28,101.6 L1250.37,102.0 L1251.46,102.7 L1252.55,102.7 L1253.64,102.3 L1254.73,102.6 L1255.81,103.0 L1256.90,102.7 L1257.99,102.2 L1259.08,102.6 L1260.17,103.2 L1261.25,103.4 L1262.34,103.3 L1263.43,102.8 L1264.52,102.2 L1265.61,102.3 L1266.70,102.6 L1267.78,102.5 L1268.87,102.5 L1269.96,101.9 L1271.05,101.3 L1272.14,101.7 L1273.23,102.2 L1274.31,102.0 L1275.40,101.6 L1276.49,101.4 L1277.58,101.3 L1278.67,101.7 L1279.76,102.2 L1280.84,101.6 L1281.93,100.9 L1283.02,101.8 L1284.11,102.8 L1285.20,101.8 L1286.28,100.6 L1287.37,100.8 L1288.46,101.2 L1289.55,101.0 L1290.64,100.7 L1291.73,100.5 L1292.81,100.4 L1293.90,100.4 L1294.99,100.5 L1296.08,101.1 L1297.17,101.7 L1298.26,101.6 L1299.34,101.4 L1300.43,102.4 L1301.52,103.3 L1302.61,102.6 L1303.70,101.9" fill="none" stroke="#0000ff" stroke-width="6.5" stroke-linejoin="round" stroke-linecap="butt"/>
<circle cx="243.1" cy="594.1" r="15.7" fill="#0000ff"/>
<circle cx="305.6" cy="478.3" r="15.7" fill="#0000ff"/>
<circle cx="368.2" cy="474.9" r="15.7" fill="#0000ff"/>
<circle cx="430.8" cy="662.7" r="15.7" fill="#0000ff"/>
<circle cx="493.4" cy="900.3" r="15.7" fill="#0000ff"/>
<circle cx="555.9" cy="939.0" r="15.7" fill="#0000ff"/>
<circle cx="618.5" cy="939.0" r="15.7" fill="#0000ff"/>
<circle cx="681.1" cy="939.0" r="15.7" fill="#0000ff"/>
<circle cx="743.7" cy="928.2" r="15.7" fill="#0000ff"/>
<circle cx="806.2" cy="540.7" r="15.7" fill="#0000ff"/>
<circle cx="868.8" cy="200.9" r="15.7" fill="#0000ff"/>
<circle cx="931.4" cy="160.0" r="15.7" fill="#0000ff"/>
<circle cx="994.0" cy="139.1" r="15.7" fill="#0000ff"/>
<circle cx="1056.5" cy="121.6" r="15.7" fill="#0000ff"/>
<circle cx="1119.1" cy="107.5" r="15.7" fill="#0000ff"/>
<circle cx="1181.7" cy="103.3" r="15.7" fill="#0000ff"/>
<circle cx="1244.3" cy="100.4" r="15.7" fill="#0000ff"/>
<circle cx="1306.8" cy="100.4" r="15.7" fill="#0000ff"/>
<circle cx="1369.4" cy="100.4" r="15.7" fill="#0000ff"/>
<circle cx="1432.0" cy="100.4" r="15.7" fill="#0000ff"/>
<circle cx="1494.6" cy="100.4" r="15.7" fill="#0000ff"/>
</g>
<g>
<path transform="scale(1.150 1)" d="M208.91,659.1 L209.99,657.3 L211.08,655.4 L212.17,653.2 L213.26,650.6 L214.35,647.8 L215.44,645.2 L216.52,642.9 L217.61,640.8 L218.70,638.8 L219.79,636.9 L220.88,635.0 L221.97,633.2 L223.05,631.4 L224.14,629.7 L225.23,628.0 L226.32,626.2 L227.41,624.5 L228.50,622.6 L229.58,620.8 L230.67,618.8 L231.76,616.7 L232.85,614.5 L233.94,612.2 L235.02,609.6 L236.11,606.8 L237.20,603.7 L238.29,600.5 L239.38,597.2 L240.47,593.7 L241.55,590.3 L242.64,586.9 L243.73,583.6 L244.82,580.5 L245.91,577.5 L247.00,574.7 L248.08,571.9 L249.17,569.1 L250.26,566.4 L251.35,563.7 L252.44,561.1 L253.53,558.6 L254.61,556.1 L255.70,553.7 L256.79,551.3 L257.88,549.1 L258.97,547.2 L260.05,545.4 L261.14,543.6 L262.23,541.8 L263.32,539.9 L264.41,537.6 L265.50,534.8 L266.58,531.1 L267.67,525.6 L268.76,519.6 L269.85,514.1 L270.94,510.2 L272.03,506.9 L273.11,504.0 L274.20,501.3 L275.29,498.7 L276.38,496.3 L277.47,493.9 L278.56,491.4 L279.64,489.0 L280.73,486.6 L281.82,484.3 L282.91,482.1 L284.00,480.1 L285.08,478.3 L286.17,476.5 L287.26,474.9 L288.35,473.3 L289.44,471.9 L290.53,470.5 L291.61,469.3 L292.70,468.3 L293.79,467.3 L294.88,466.3 L295.97,465.5 L297.06,464.6 L298.14,463.8 L299.23,463.2 L300.32,462.5 L301.41,462.0 L302.50,461.6 L303.59,461.2 L304.67,460.9 L305.76,460.5 L306.85,460.2 L307.94,459.9 L309.03,459.6 L310.11,459.4 L311.20,459.3 L312.29,459.1 L313.38,459.1 L314.47,459.2 L315.56,459.8 L316.64,460.7 L317.73,461.8 L318.82,462.9 L319.91,463.9 L321.00,464.7 L322.09,465.4 L323.17,466.1 L324.26,466.8 L325.35,467.5 L326.44,468.2 L327.53,468.9 L328.62,469.7 L329.70,470.4 L330.79,471.3 L331.88,472.2 L332.97,473.2 L334.06,474.2 L335.14,475.3 L336.23,476.5 L337.32,477.8 L338.41,479.2 L339.50,480.7 L340.59,482.6 L341.67,484.8 L342.76,487.1 L343.85,489.6 L344.94,491.9 L346.03,494.2 L347.12,496.6 L348.20,499.0 L349.29,501.6 L350.38,504.2 L351.47,507.0 L352.56,509.9 L353.65,513.0 L354.73,516.2 L355.82,519.6 L356.91,523.2 L358.00,527.3 L359.09,531.7 L360.17,536.6 L361.26,541.9 L362.35,547.6 L363.44,553.7 L364.53,560.0 L365.62,566.4 L366.70,572.8 L367.79,579.1 L368.88,585.1 L369.97,590.8 L371.06,596.2 L372.15,601.6 L373.23,607.0 L374.32,612.6 L375.41,618.5 L376.50,624.4 L377.59,630.5 L378.68,636.7 L379.76,643.0 L380.85,649.4 L381.94,655.8 L383.03,662.2 L384.12,668.7 L385.20,675.2 L386.29,681.6 L387.38,688.1 L388.47,694.5 L389.56,700.8 L390.65,707.1 L391.73,713.4 L392.82,719.6 L393.91,725.9 L395.00,732.2 L396.09,738.4 L397.18,744.7 L398.26,751.0 L399.35,757.2 L400.44,763.5 L401.53,769.8 L402.62,776.3 L403.71,783.0 L404.79,789.8 L405.88,796.7 L406.97,803.5 L408.06,810.1 L409.15,816.5 L410.23,822.5 L411.32,828.0 L412.41,832.9 L413.50,837.3 L414.59,841.5 L415.68,845.5 L416.76,849.4 L417.85,853.1 L418.94,856.6 L420.03,860.0 L421.12,863.3 L422.21,866.5 L423.29,869.5 L424.38,872.5 L425.47,875.3 L426.56,878.1 L427.65,880.8 L428.74,883.4 L429.82,885.9 L430.91,888.4 L432.00,890.8 L433.09,893.2 L434.18,895.5 L435.26,897.7 L436.35,899.9 L437.44,901.9 L438.53,903.9 L439.62,905.7 L440.71,907.4 L441.79,909.1 L442.88,910.6 L443.97,912.0 L445.06,913.4 L446.15,914.7 L447.24,915.9 L448.32,917.1 L449.41,918.3 L450.50,919.3 L451.59,920.4 L452.68,921.4 L453.77,922.3 L454.85,923.3 L455.94,924.1 L457.03,924.9 L458.12,925.7 L459.21,926.5 L460.29,927.2 L461.38,928.0 L462.47,928.7 L463.56,929.4 L464.65,930.1 L465.74,930.8 L466.82,931.5 L467.91,932.2 L469.00,932.9 L470.09,933.5 L471.18,934.2 L472.27,934.7 L473.35,935.3 L474.44,935.7 L475.53,936.1 L476.62,936.4 L477.71,936.8 L478.80,937.1 L479.88,937.4 L480.97,937.7 L482.06,938.0 L483.15,938.3 L484.24,938.5 L485.32,938.7 L486.41,938.8 L487.50,938.9 L488.59,939.0 L489.68,939.0 L490.77,939.0 L491.85,939.0 L492.94,939.0 L494.03,939.0 L495.12,939.0 L496.21,939.0 L497.30,939.0 L498.38,939.0 L499.47,939.0 L500.56,939.0 L501.65,939.0 L502.74,939.0 L503.83,939.0 L504.91,939.0 L506.00,939.0 L507.09,939.0 L508.18,939.0 L509.27,939.0 L510.35,939.0 L511.44,939.0 L512.53,939.0 L513.62,939.0 L514.71,939.0 L515.80,939.0 L516.88,939.0 L517.97,939.0 L519.06,939.0 L520.15,939.0 L521.24,939.0 L522.33,939.0 L523.41,939.0 L524.50,939.0 L525.59,939.0 L526.68,939.0 L527.77,939.0 L528.86,939.0 L529.94,939.0 L531.03,939.0 L532.12,939.0 L533.21,939.0 L534.30,939.0 L535.38,939.0 L536.47,939.0 L537.56,939.0 L538.65,939.0 L539.74,939.0 L540.83,939.0 L541.91,939.0 L543.00,939.0 L544.09,939.0 L545.18,939.0 L546.27,939.0 L547.36,939.0 L548.44,939.0 L549.53,939.0 L550.62,939.0 L551.71,939.0 L552.80,939.0 L553.89,939.0 L554.97,939.0 L556.06,939.0 L557.15,939.0 L558.24,939.0 L559.33,939.0 L560.41,939.0 L561.50,939.0 L562.59,939.0 L563.68,939.0 L564.77,939.0 L565.86,939.0 L566.94,939.0 L568.03,939.0 L569.12,939.0 L570.21,939.0 L571.30,939.0 L572.39,939.0 L573.47,939.0 L574.56,939.0 L575.65,939.0 L576.74,939.0 L577.83,939.0 L578.92,939.0 L580.00,939.0 L581.09,939.0 L582.18,939.0 L583.27,939.0 L584.36,939.0 L585.44,939.0 L586.53,939.0 L587.62,939.0 L588.71,939.0 L589.80,939.0 L590.89,939.0 L591.97,939.0 L593.06,939.0 L594.15,939.0 L595.24,939.0 L596.33,939.0 L597.42,939.0 L598.50,939.0 L599.59,939.0 L600.68,939.0 L601.77,939.0 L602.86,939.0 L603.95,939.0 L605.03,938.9 L606.12,938.9 L607.21,938.9 L608.30,938.9 L609.39,938.9 L610.47,938.9 L611.56,938.9 L612.65,938.8 L613.74,938.8 L614.83,938.8 L615.92,938.8 L617.00,938.7 L618.09,938.7 L619.18,938.7 L620.27,938.6 L621.36,938.6 L622.45,938.6 L623.53,938.5 L624.62,938.5 L625.71,938.5 L626.80,938.4 L627.89,938.4 L628.98,938.3 L630.06,938.3 L631.15,938.2 L632.24,938.2 L633.33,938.1 L634.42,938.1 L635.50,938.0 L636.59,938.0 L637.68,937.9 L638.77,937.9 L639.86,937.8 L640.95,937.7 L642.03,937.7 L643.12,937.6 L644.21,937.5 L645.30,937.4 L646.39,937.4 L647.48,937.3 L648.56,937.1 L649.65,936.9 L650.74,936.7 L651.83,936.4 L652.92,936.0 L654.01,935.6 L655.09,935.2 L656.18,934.7 L657.27,934.1 L658.36,933.6 L659.45,933.0 L660.53,932.3 L661.62,931.7 L662.71,931.0 L663.80,930.3 L664.89,929.5 L665.98,928.6 L667.06,927.6 L668.15,926.4 L669.24,925.2 L670.33,923.8 L671.42,922.4 L672.51,920.8 L673.59,919.1 L674.68,917.2 L675.77,915.3 L676.86,913.2 L677.95,911.1 L679.04,908.8 L680.12,906.2 L681.21,903.2 L682.30,899.7 L683.39,895.7 L684.48,891.2 L685.56,886.3 L686.65,881.0 L687.74,875.3 L688.83,869.2 L689.92,862.8 L691.01,856.0 L692.09,848.8 L693.18,840.4 L694.27,830.4 L695.36,819.1 L696.45,806.8 L697.54,793.7 L698.62,780.0 L699.71,765.9 L700.80,751.8 L701.89,737.7 L702.98,723.9 L704.07,709.7 L705.15,694.9 L706.24,679.6 L707.33,664.1 L708.42,648.5 L709.51,633.0 L710.59,617.9 L711.68,603.2 L712.77,589.1 L713.86,575.4 L714.95,561.9 L716.04,548.6 L717.12,535.3 L718.21,522.0 L719.30,508.4 L720.39,494.7 L721.48,480.5 L722.57,465.5 L723.65,449.8 L724.74,433.9 L725.83,418.0 L726.92,402.5 L728.01,387.9 L729.10,374.4 L730.18,362.4 L731.27,351.2 L732.36,340.5 L733.45,330.4 L734.54,320.7 L735.62,311.4 L736.71,302.5 L737.80,293.8 L738.89,285.2 L739.98,276.9 L741.07,268.7 L742.15,260.8 L743.24,253.2 L744.33,246.1 L745.42,239.4 L746.51,233.3 L747.60,227.6 L748.68,222.1 L749.77,216.9 L750.86,211.9 L751.95,207.1 L753.04,202.6 L754.13,198.3 L755.21,194.2 L756.30,190.3 L757.39,186.6 L758.48,182.9 L759.57,179.4 L760.65,175.9 L761.74,172.4 L762.83,169.0 L763.92,165.7 L765.01,162.6 L766.10,159.5 L767.18,156.6 L768.27,153.8 L769.36,151.2 L770.45,148.7 L771.54,146.4 L772.63,144.3 L773.71,142.5 L774.80,140.8 L775.89,139.3 L776.98,137.8 L778.07,136.4 L779.16,135.0 L780.24,133.7 L781.33,132.5 L782.42,131.2 L783.51,130.1 L784.60,129.0 L785.68,127.9 L786.77,127.0 L787.86,126.0 L788.95,125.2 L790.04,124.4 L791.13,123.7 L792.21,123.0 L793.30,122.4 L794.39,121.9 L795.48,121.4 L796.57,121.0 L797.66,120.6 L798.74,120.3 L799.83,119.9 L800.92,119.6 L802.01,119.4 L803.10,119.1 L804.19,118.8 L805.27,118.6 L806.36,118.3 L807.45,118.1 L808.54,117.9 L809.63,117.6 L810.71,117.4 L811.80,117.1 L812.89,116.9 L813.98,116.7 L815.07,116.4 L816.16,116.2 L817.24,116.0 L818.33,115.8 L819.42,115.6 L820.51,115.5 L821.60,115.2 L822.69,114.8 L823.77,114.6 L824.86,114.4 L825.95,114.3 L827.04,114.3 L828.13,113.8 L829.22,113.4 L830.30,113.6 L831.39,113.8 L832.48,113.4 L833.57,113.1 L834.66,113.1 L835.74,113.1 L836.83,112.8 L837.92,112.4 L839.01,111.7 L840.10,111.1 L841.19,110.9 L842.27,110.8 L843.36,111.0 L844.45,111.1 L845.54,110.4 L846.63,109.8 L847.72,110.1 L848.80,110.4 L849.89,109.8 L850.98,109.3 L852.07,109.1 L853.16,109.0 L854.25,109.3 L855.33,109.2 L856.42,107.9 L857.51,106.8 L858.60,107.3 L859.69,107.6 L860.77,106.7 L861.86,106.2 L862.95,106.9 L864.04,107.4 L865.13,106.6 L866.22,105.9 L867.30,105.7 L868.39,105.4 L869.48,105.0 L870.57,104.7 L871.66,105.2 L872.75,105.3 L873.83,104.4 L874.92,103.7 L876.01,103.8 L877.10,103.8 L878.19,103.4 L879.28,103.2 L880.36,103.1 L881.45,103.1 L882.54,102.9 L883.63,102.9 L884.72,103.0 L885.80,103.1 L886.89,103.3 L887.98,103.3 L889.07,102.9 L890.16,102.8 L891.25,103.4 L892.33,103.5 L893.42,102.9 L894.51,102.4 L895.60,102.3 L896.69,102.4 L897.78,102.8 L898.86,103.0 L899.95,102.9 L901.04,102.6 L902.13,102.0 L903.22,101.8 L904.31,102.5 L905.39,102.7 L906.48,102.0 L907.57,101.4 L908.66,101.0 L909.75,101.0 L910.83,101.7 L911.92,101.8 L913.01,101.0 L914.10,101.0 L915.19,102.0 L916.28,102.3 L917.36,101.6 L918.45,101.1 L919.54,100.9 L920.63,100.9 L921.72,101.1 L922.81,101.5 L923.89,102.0 L924.98,101.8 L926.07,100.6 L927.16,100.2 L928.25,100.7 L929.34,101.1 L930.42,101.4 L931.51,101.3 L932.60,100.9 L933.69,100.7 L934.78,100.7 L935.86,101.0 L936.95,101.6 L938.04,101.7 L939.13,101.4 L940.22,101.4 L941.31,101.7 L942.39,101.7 L943.48,101.5 L944.57,101.4 L945.66,101.3 L946.75,101.3 L947.84,101.2 L948.92,101.4 L950.01,101.8 L951.10,102.2 L952.19,102.7 L953.28,102.4 L954.37,101.8 L955.45,101.4 L956.54,101.3 L957.63,101.6 L958.72,102.2 L959.81,102.1 L960.89,101.3 L961.98,101.5 L963.07,102.1 L964.16,102.0 L965.25,101.3 L966.34,101.1 L967.42,101.2 L968.51,101.5 L969.60,101.9 L970.69,101.8 L971.78,101.4 L972.87,101.1 L973.95,100.9 L975.04,101.2 L976.13,102.0 L977.22,102.4 L978.31,102.7 L979.40,102.2 L980.48,101.3 L981.57,101.4 L982.66,102.0 L983.75,101.6 L984.84,100.7 L985.92,100.7 L987.01,101.1 L988.10,101.6 L989.19,102.1 L990.28,101.7 L991.37,100.9 L992.45,100.6 L993.54,100.6 L994.63,101.2 L995.72,101.9 L996.81,101.5 L997.90,100.6 L998.98,100.8 L1000.07,101.3 L1001.16,101.7 L1002.25,102.0 L1003.34,102.0 L1004.43,101.9 L1005.51,101.9 L1006.60,102.0 L1007.69,101.6 L1008.78,101.0 L1009.87,100.6 L1010.95,100.2 L1012.04,100.2 L1013.13,100.3 L1014.22,100.4 L1015.31,100.6 L1016.40,100.4 L1017.48,100.3 L1018.57,100.5 L1019.66,100.7 L1020.75,100.8 L1021.84,100.9 L1022.93,101.2 L1024.01,101.4 L1025.10,101.1 L1026.19,100.7 L1027.28,101.0 L1028.37,101.5 L1029.46,101.3 L1030.54,101.2 L1031.63,100.6 L1032.72,99.9 L1033.81,100.3 L1034.90,100.8 L1035.98,100.5 L1037.07,100.1 L1038.16,100.5 L1039.25,101.0 L1040.34,101.1 L1041.43,101.1 L1042.51,101.2 L1043.60,101.2 L1044.69,101.2 L1045.78,101.2 L1046.87,100.8 L1047.96,100.5 L1049.04,100.6 L1050.13,100.8 L1051.22,101.0 L1052.31,101.1 L1053.40,100.3 L1054.49,99.4 L1055.57,99.9 L1056.66,100.4 L1057.75,100.8 L1058.84,101.2 L1059.93,101.3 L1061.01,101.3 L1062.10,100.5 L1063.19,99.6 L1064.28,99.6 L1065.37,99.5 L1066.46,99.7 L1067.54,99.9 L1068.63,100.4 L1069.72,100.9 L1070.81,100.7 L1071.90,100.4 L1072.99,100.0 L1074.07,99.7 L1075.16,99.6 L1076.25,99.6 L1077.34,99.4 L1078.43,99.3 L1079.52,99.4 L1080.60,99.5 L1081.69,99.9 L1082.78,100.2 L1083.87,100.5 L1084.96,100.7 L1086.04,100.4 L1087.13,100.1 L1088.22,99.2 L1089.31,98.4 L1090.40,98.9 L1091.49,99.4 L1092.57,99.2 L1093.66,99.1 L1094.75,99.2 L1095.84,99.4 L1096.93,99.9 L1098.02,100.3 L1099.10,99.7 L1100.19,99.3 L1101.28,99.6 L1102.37,99.7 L1103.46,100.1 L1104.55,100.3 L1105.63,99.6 L1106.72,99.0 L1107.81,99.1 L1108.90,99.2 L1109.99,99.5 L1111.07,99.5 L1112.16,98.6 L1113.25,97.9 L1114.34,98.3 L1115.43,98.6 L1116.52,98.7 L1117.60,98.6 L1118.69,97.6 L1119.78,97.2 L1120.87,98.0 L1121.96,98.4 L1123.05,97.6 L1124.13,97.1 L1125.22,97.6 L1126.31,98.0 L1127.40,98.3 L1128.49,98.3 L1129.58,97.2 L1130.66,96.6 L1131.75,97.1 L1132.84,97.5 L1133.93,97.7 L1135.02,97.9 L1136.10,98.1 L1137.19,98.0 L1138.28,97.3 L1139.37,96.9 L1140.46,97.2 L1141.55,97.5 L1142.63,97.5 L1143.72,97.3 L1144.81,96.6 L1145.90,96.3 L1146.99,96.9 L1148.08,97.4 L1149.16,97.9 L1150.25,97.8 L1151.34,96.7 L1152.43,96.0 L1153.52,96.0 L1154.61,96.2 L1155.69,96.8 L1156.78,97.5 L1157.87,98.2 L1158.96,98.5 L1160.05,98.1 L1161.13,97.7 L1162.22,97.4 L1163.31,97.4 L1164.40,97.8 L1165.49,98.2 L1166.58,98.3 L1167.66,98.5 L1168.75,98.8 L1169.84,98.9 L1170.93,98.7 L1172.02,98.8 L1173.11,99.2 L1174.19,99.4 L1175.28,99.1 L1176.37,98.5 L1177.46,97.7 L1178.55,97.2 L1179.64,97.2 L1180.72,97.2 L1181.81,97.4 L1182.90,97.6 L1183.99,97.8 L1185.08,98.0 L1186.16,98.1 L1187.25,97.9 L1188.34,97.3 L1189.43,96.9 L1190.52,96.6 L1191.61,96.8 L1192.69,97.3 L1193.78,97.4 L1194.87,97.1 L1195.96,97.0 L1197.05,96.9 L1198.14,97.1 L1199.22,97.4 L1200.31,97.3 L1201.40,97.1 L1202.49,97.0 L1203.58,96.8 L1204.67,96.9 L1205.75,97.0 L1206.84,96.9 L1207.93,96.7 L1209.02,96.9 L1210.11,97.3 L1211.19,97.4 L1212.28,97.4 L1213.37,97.5 L1214.46,97.7 L1215.55,98.1 L1216.64,98.7 L1217.72,98.6 L1218.81,98.1 L1219.90,97.8 L1220.99,97.7 L1222.08,97.7 L1223.17,97.8 L1224.25,98.2 L1225.34,98.6 L1226.43,98.9 L1227.52,99.1 L1228.61,98.5 L1229.70,97.7 L1230.78,97.9 L1231.87,98.7 L1232.96,98.8 L1234.05,98.6 L1235.14,98.4 L1236.22,98.3 L1237.31,98.0 L1238.40,97.7 L1239.49,97.6 L1240.58,97.7 L1241.67,98.3 L1242.75,99.1 L1243.84,98.9 L1244.93,98.4 L1246.02,98.3 L1247.11,98.4 L1248.20,98.0 L1249.28,97.5 L1250.37,98.1 L1251.46,99.0 L1252.55,98.9 L1253.64,98.5 L1254.73,98.7 L1255.81,99.0 L1256.90,99.1 L1257.99,99.3 L1259.08,98.7 L1260.17,98.0 L1261.25,98.0 L1262.34,98.2 L1263.43,98.0 L1264.52,97.8 L1265.61,98.2 L1266.70,98.7 L1267.78,99.0 L1268.87,99.2 L1269.96,99.0 L1271.05,98.7 L1272.14,98.6 L1273.23,98.5 L1274.31,98.0 L1275.40,97.4 L1276.49,97.7 L1277.58,98.1 L1278.67,98.0 L1279.76,98.0 L1280.84,97.9 L1281.93,97.8 L1283.02,98.2 L1284.11,98.8 L1285.20,98.8 L1286.28,98.8 L1287.37,99.0 L1288.46,99.2 L1289.55,98.9 L1290.64,98.6 L1291.73,98.4 L1292.81,98.3 L1293.90,99.1 L1294.99,99.8 L1296.08,99.6 L1297.17,99.2 L1298.26,98.4 L1299.34,97.5 L1300.43,97.6 L1301.52,97.6 L1302.61,98.0 L1303.70,98.4" fill="none" stroke="#ff00ff" stroke-width="6.5" stroke-linejoin="round" stroke-linecap="butt"/>
<polygon points="243.1,635.3 224.6,668.5 261.6,668.5" fill="#ff00ff"/>
<polygon points="305.6,512.8 287.1,546.0 324.1,546.0" fill="#ff00ff"/>
<polygon points="368.2,443.2 349.7,476.4 386.7,476.4" fill="#ff00ff"/>
<polygon points="430.8,591.9 412.3,625.1 449.3,625.1" fill="#ff00ff"/>
<polygon points="493.4,862.7 474.9,895.9 511.9,895.9" fill="#ff00ff"/>
<polygon points="555.9,916.9 537.4,950.1 574.4,950.1" fill="#ff00ff"/>
<polygon points="618.5,916.9 600.0,950.1 637.0,950.1" fill="#ff00ff"/>
<polygon points="681.1,916.9 662.6,950.1 699.6,950.1" fill="#ff00ff"/>
<polygon points="743.7,915.2 725.2,948.4 762.2,948.4" fill="#ff00ff"/>
<polygon points="806.2,746.1 787.7,779.3 824.7,779.3" fill="#ff00ff"/>
<polygon points="868.8,165.3 850.3,198.5 887.3,198.5" fill="#ff00ff"/>
<polygon points="931.4,95.3 912.9,128.5 949.9,128.5" fill="#ff00ff"/>
<polygon points="994.0,82.9 975.5,116.1 1012.5,116.1" fill="#ff00ff"/>
<polygon points="1056.5,78.3 1038.0,111.5 1075.0,111.5" fill="#ff00ff"/>
<polygon points="1119.1,80.4 1100.6,113.6 1137.6,113.6" fill="#ff00ff"/>
<polygon points="1181.7,78.7 1163.2,111.9 1200.2,111.9" fill="#ff00ff"/>
<polygon points="1244.3,78.7 1225.8,111.9 1262.8,111.9" fill="#ff00ff"/>
<polygon points="1306.8,73.1 1288.3,106.3 1325.3,106.3" fill="#ff00ff"/>
<polygon points="1369.4,73.9 1350.9,107.1 1387.9,107.1" fill="#ff00ff"/>
<polygon points="1432.0,75.8 1413.5,109.0 1450.5,109.0" fill="#ff00ff"/>
<polygon points="1494.6,74.9 1476.1,108.1 1513.1,108.1" fill="#ff00ff"/>
</g>
<g>
<path transform="scale(1.150 1)" d="M208.91,653.2 L209.99,651.7 L211.08,650.2 L212.17,648.9 L213.26,647.6 L214.35,646.3 L215.44,645.1 L216.52,644.0 L217.61,642.9 L218.70,641.8 L219.79,640.7 L220.88,639.6 L221.97,638.5 L223.05,637.4 L224.14,636.3 L225.23,635.1 L226.32,634.0 L227.41,632.9 L228.50,631.8 L229.58,630.6 L230.67,629.5 L231.76,628.3 L232.85,627.0 L233.94,625.7 L235.02,624.3 L236.11,622.8 L237.20,621.1 L238.29,619.3 L239.38,617.3 L240.47,615.2 L241.55,613.0 L242.64,610.7 L243.73,608.5 L244.82,606.3 L245.91,604.0 L247.00,601.6 L248.08,599.2 L249.17,596.9 L250.26,594.6 L251.35,592.4 L252.44,590.2 L253.53,588.0 L254.61,585.9 L255.70,583.9 L256.79,581.9 L257.88,580.0 L258.97,578.1 L260.05,576.3 L261.14,574.5 L262.23,572.7 L263.32,571.0 L264.41,569.4 L265.50,567.8 L266.58,566.3 L267.67,564.8 L268.76,563.4 L269.85,562.0 L270.94,560.7 L272.03,559.3 L273.11,558.0 L274.20,556.6 L275.29,555.1 L276.38,553.7 L277.47,552.3 L278.56,550.9 L279.64,549.4 L280.73,548.0 L281.82,546.4 L282.91,544.9 L284.00,543.2 L285.08,541.4 L286.17,539.3 L287.26,537.3 L288.35,535.6 L289.44,534.3 L290.53,533.1 L291.61,532.0 L292.70,531.0 L293.79,530.1 L294.88,529.3 L295.97,528.7 L297.06,528.3 L298.14,528.2 L299.23,528.1 L300.32,528.0 L301.41,527.9 L302.50,527.9 L303.59,527.8 L304.67,527.8 L305.76,527.9 L306.85,528.1 L307.94,528.5 L309.03,528.9 L310.11,529.5 L311.20,530.1 L312.29,530.7 L313.38,531.5 L314.47,532.5 L315.56,533.6 L316.64,534.9 L317.73,536.2 L318.82,537.5 L319.91,538.8 L321.00,539.9 L322.09,541.0 L323.17,542.1 L324.26,543.2 L325.35,544.2 L326.44,545.3 L327.53,546.4 L328.62,547.5 L329.70,548.7 L330.79,550.0 L331.88,551.3 L332.97,552.8 L334.06,554.3 L335.14,556.0 L336.23,557.8 L337.32,559.7 L338.41,561.7 L339.50,563.8 L340.59,565.9 L341.67,568.1 L342.76,570.4 L343.85,572.7 L344.94,575.0 L346.03,577.4 L347.12,579.9 L348.20,582.6 L349.29,585.3 L350.38,588.0 L351.47,590.9 L352.56,593.9 L353.65,596.9 L354.73,600.0 L355.82,603.2 L356.91,606.5 L358.00,610.1 L359.09,613.7 L360.17,617.5 L361.26,621.3 L362.35,625.3 L363.44,629.2 L364.53,633.2 L365.62,637.3 L366.70,641.4 L367.79,645.7 L368.88,650.0 L369.97,654.3 L371.06,658.7 L372.15,663.1 L373.23,667.5 L374.32,671.9 L375.41,676.2 L376.50,680.5 L377.59,684.7 L378.68,688.8 L379.76,693.1 L380.85,697.3 L381.94,701.7 L383.03,706.2 L384.12,710.8 L385.20,715.7 L386.29,720.9 L387.38,726.4 L388.47,732.1 L389.56,738.0 L390.65,744.1 L391.73,750.2 L392.82,756.3 L393.91,762.3 L395.00,768.2 L396.09,773.8 L397.18,779.2 L398.26,784.6 L399.35,790.0 L400.44,795.4 L401.53,800.7 L402.62,805.9 L403.71,810.9 L404.79,815.8 L405.88,820.4 L406.97,824.9 L408.06,829.0 L409.15,833.0 L410.23,836.8 L411.32,840.6 L412.41,844.2 L413.50,847.8 L414.59,851.1 L415.68,854.3 L416.76,857.3 L417.85,860.2 L418.94,862.8 L420.03,865.2 L421.12,867.4 L422.21,869.4 L423.29,871.2 L424.38,873.0 L425.47,874.7 L426.56,876.5 L427.65,878.3 L428.74,880.2 L429.82,882.2 L430.91,884.3 L432.00,886.5 L433.09,888.8 L434.18,891.1 L435.26,893.3 L436.35,895.6 L437.44,897.8 L438.53,899.9 L439.62,902.0 L440.71,903.9 L441.79,905.7 L442.88,907.3 L443.97,908.8 L445.06,910.2 L446.15,911.5 L447.24,912.8 L448.32,914.0 L449.41,915.2 L450.50,916.4 L451.59,917.6 L452.68,918.8 L453.77,919.9 L454.85,920.9 L455.94,921.9 L457.03,922.8 L458.12,923.6 L459.21,924.4 L460.29,925.2 L461.38,925.9 L462.47,926.6 L463.56,927.3 L464.65,927.9 L465.74,928.5 L466.82,929.1 L467.91,929.7 L469.00,930.3 L470.09,930.8 L471.18,931.4 L472.27,931.9 L473.35,932.4 L474.44,932.9 L475.53,933.3 L476.62,933.8 L477.71,934.2 L478.80,934.6 L479.88,935.0 L480.97,935.5 L482.06,935.9 L483.15,936.3 L484.24,936.7 L485.32,937.1 L486.41,937.4 L487.50,937.6 L488.59,937.7 L489.68,937.8 L490.77,937.8 L491.85,937.8 L492.94,937.9 L494.03,937.9 L495.12,938.0 L496.21,938.0 L497.30,938.0 L498.38,938.1 L499.47,938.1 L500.56,938.1 L501.65,938.1 L502.74,938.2 L503.83,938.2 L504.91,938.2 L506.00,938.2 L507.09,938.3 L508.18,938.3 L509.27,938.3 L510.35,938.3 L511.44,938.4 L512.53,938.4 L513.62,938.4 L514.71,938.4 L515.80,938.4 L516.88,938.4 L517.97,938.5 L519.06,938.5 L520.15,938.5 L521.24,938.5 L522.33,938.5 L523.41,938.5 L524.50,938.5 L525.59,938.5 L526.68,938.5 L527.77,938.5 L528.86,938.6 L529.94,938.6 L531.03,938.6 L532.12,938.6 L533.21,938.6 L534.30,938.6 L535.38,938.6 L536.47,938.6 L537.56,938.6 L538.65,938.6 L539.74,938.6 L540.83,938.6 L541.91,938.6 L543.00,938.6 L544.09,938.6 L545.18,938.6 L546.27,938.6 L547.36,938.6 L548.44,938.6 L549.53,938.6 L550.62,938.6 L551.71,938.6 L552.80,938.6 L553.89,938.6 L554.97,938.6 L556.06,938.6 L557.15,938.6 L558.24,938.6 L559.33,938.6 L560.41,938.6 L561.50,938.6 L562.59,938.6 L563.68,938.6 L564.77,938.6 L565.86,938.6 L566.94,938.6 L568.03,938.6 L569.12,938.6 L570.21,938.6 L571.30,938.6 L572.39,938.6 L573.47,938.6 L574.56,938.6 L575.65,938.6 L576.74,938.6 L577.83,938.6 L578.92,938.6 L580.00,938.6 L581.09,938.6 L582.18,938.6 L583.27,938.6 L584.36,938.6 L585.44,938.6 L586.53,938.6 L587.62,938.6 L588.71,938.6 L589.80,938.6 L590.89,938.6 L591.97,938.6 L593.06,938.6 L594.15,938.6 L595.24,938.6 L596.33,938.6 L597.42,938.6 L598.50,938.6 L599.59,938.6 L600.68,938.6 L601.77,938.6 L602.86,938.6 L603.95,938.6 L605.03,938.6 L606.12,938.6 L607.21,938.6 L608.30,938.6 L609.39,938.6 L610.47,938.6 L611.56,938.6 L612.65,938.6 L613.74,938.5 L614.83,938.5 L615.92,938.5 L617.00,938.5 L618.09,938.5 L619.18,938.5 L620.27,938.5 L621.36,938.5 L622.45,938.5 L623.53,938.5 L624.62,938.5 L625.71,938.5 L626.80,938.5 L627.89,938.5 L628.98,938.4 L630.06,938.4 L631.15,938.4 L632.24,938.4 L633.33,938.4 L634.42,938.4 L635.50,938.4 L636.59,938.4 L637.68,938.4 L638.77,938.3 L639.86,938.3 L640.95,938.3 L642.03,938.3 L643.12,938.3 L644.21,938.3 L645.30,938.2 L646.39,938.2 L647.48,938.2 L648.56,938.2 L649.65,938.2 L650.74,938.1 L651.83,938.0 L652.92,937.8 L654.01,937.6 L655.09,937.3 L656.18,937.0 L657.27,936.6 L658.36,936.2 L659.45,935.7 L660.53,935.2 L661.62,934.7 L662.71,934.1 L663.80,933.6 L664.89,933.0 L665.98,932.3 L667.06,931.6 L668.15,930.8 L669.24,929.8 L670.33,928.6 L671.42,927.3 L672.51,925.9 L673.59,924.3 L674.68,922.7 L675.77,920.9 L676.86,919.0 L677.95,916.8 L679.04,914.0 L680.12,910.8 L681.21,907.3 L682.30,903.6 L683.39,899.8 L684.48,896.1 L685.56,892.4 L686.65,888.8 L687.74,885.1 L688.83,881.2 L689.92,877.2 L691.01,872.9 L692.09,868.2 L693.18,863.1 L694.27,857.6 L695.36,851.0 L696.45,843.4 L697.54,835.0 L698.62,826.2 L699.71,817.2 L700.80,808.2 L701.89,799.3 L702.98,790.4 L704.07,781.4 L705.15,772.1 L706.24,762.4 L707.33,752.3 L708.42,741.6 L709.51,730.3 L710.59,718.1 L711.68,704.6 L712.77,690.1 L713.86,674.9 L714.95,659.1 L716.04,643.0 L717.12,626.9 L718.21,611.0 L719.30,595.5 L720.39,579.8 L721.48,564.0 L722.57,548.1 L723.65,532.1 L724.74,516.1 L725.83,500.1 L726.92,484.1 L728.01,467.7 L729.10,450.8 L730.18,433.7 L731.27,416.8 L732.36,400.5 L733.45,385.3 L734.54,371.5 L735.62,359.1 L736.71,347.6 L737.80,336.7 L738.89,326.4 L739.98,316.6 L741.07,307.2 L742.15,298.2 L743.24,289.5 L744.33,281.0 L745.42,272.8 L746.51,264.9 L747.60,257.4 L748.68,250.1 L749.77,243.1 L750.86,236.5 L751.95,230.1 L753.04,223.9 L754.13,217.9 L755.21,212.0 L756.30,206.3 L757.39,200.9 L758.48,195.7 L759.57,190.9 L760.65,186.4 L761.74,182.3 L762.83,178.4 L763.92,174.7 L765.01,171.1 L766.10,167.6 L767.18,164.3 L768.27,161.1 L769.36,158.1 L770.45,155.2 L771.54,152.4 L772.63,149.8 L773.71,147.3 L774.80,145.0 L775.89,142.7 L776.98,140.5 L778.07,138.3 L779.16,136.2 L780.24,134.1 L781.33,132.1 L782.42,130.2 L783.51,128.4 L784.60,126.6 L785.68,124.9 L786.77,123.3 L787.86,121.8 L788.95,120.5 L790.04,119.2 L791.13,118.0 L792.21,117.0 L793.30,115.9 L794.39,115.0 L795.48,114.0 L796.57,113.1 L797.66,112.2 L798.74,111.3 L799.83,110.5 L800.92,109.7 L802.01,109.0 L803.10,108.3 L804.19,107.7 L805.27,107.1 L806.36,106.5 L807.45,106.0 L808.54,105.6 L809.63,105.2 L810.71,104.8 L811.80,104.5 L812.89,104.2 L813.98,103.8 L815.07,103.6 L816.16,103.4 L817.24,103.0 L818.33,102.7 L819.42,102.5 L820.51,102.4 L821.60,102.2 L822.69,102.1 L823.77,101.8 L824.86,101.5 L825.95,101.2 L827.04,100.8 L828.13,100.8 L829.22,100.8 L830.30,100.5 L831.39,100.2 L832.48,100.0 L833.57,99.8 L834.66,99.6 L835.74,99.4 L836.83,99.2 L837.92,98.9 L839.01,98.9 L840.10,98.8 L841.19,98.3 L842.27,97.9 L843.36,98.6 L844.45,99.0 L845.54,98.2 L846.63,97.4 L847.72,97.2 L848.80,97.1 L849.89,97.6 L850.98,97.9 L852.07,97.1 L853.16,96.4 L854.25,96.6 L855.33,96.8 L856.42,96.7 L857.51,96.7 L858.60,97.2 L859.69,97.3 L860.77,96.2 L861.86,95.4 L862.95,95.6 L864.04,95.9 L865.13,96.5 L866.22,96.9 L867.30,96.8 L868.39,96.6 L869.48,96.2 L870.57,95.9 L871.66,95.8 L872.75,95.6 L873.83,94.9 L874.92,94.6 L876.01,95.4 L877.10,95.8 L878.19,95.2 L879.28,94.9 L880.36,95.2 L881.45,95.3 L882.54,94.9 L883.63,94.7 L884.72,95.0 L885.80,95.0 L886.89,94.6 L887.98,94.4 L889.07,94.6 L890.16,94.6 L891.25,94.3 L892.33,94.1 L893.42,94.4 L894.51,94.7 L895.60,94.8 L896.69,94.9 L897.78,94.7 L898.86,94.6 L899.95,94.6 L901.04,94.2 L902.13,93.2 L903.22,92.9 L904.31,93.6 L905.39,94.0 L906.48,94.0 L907.57,94.1 L908.66,94.4 L909.75,94.3 L910.83,93.5 L911.92,93.0 L913.01,92.8 L914.10,92.7 L915.19,93.0 L916.28,93.2 L917.36,93.2 L918.45,93.1 L919.54,92.8 L920.63,92.7 L921.72,92.9 L922.81,92.9 L923.89,92.9 L924.98,92.8 L926.07,92.5 L927.16,92.6 L928.25,93.2 L929.34,93.5 L930.42,93.5 L931.51,93.8 L932.60,94.4 L933.69,94.8 L934.78,94.9 L935.86,94.8 L936.95,94.5 L938.04,94.1 L939.13,93.5 L940.22,93.1 L941.31,92.9 L942.39,93.3 L943.48,94.1 L944.57,94.3 L945.66,94.1 L946.75,94.2 L947.84,94.6 L948.92,94.4 L950.01,93.8 L951.10,93.4 L952.19,93.2 L953.28,93.2 L954.37,93.4 L955.45,93.8 L956.54,94.4 L957.63,94.8 L958.72,95.1 L959.81,95.2 L960.89,95.2 L961.98,94.8 L963.07,94.1 L964.16,94.3 L965.25,95.2 L966.34,94.9 L967.42,94.1 L968.51,93.8 L969.60,94.0 L970.69,94.0 L971.78,94.0 L972.87,94.0 L973.95,94.1 L975.04,93.9 L976.13,93.6 L977.22,93.5 L978.31,93.7 L979.40,94.2 L980.48,94.9 L981.57,94.8 L982.66,94.3 L983.75,94.4 L984.84,94.8 L985.92,94.7 L987.01,94.3 L988.10,94.5 L989.19,95.0 L990.28,94.8 L991.37,94.3 L992.45,94.7 L993.54,95.5 L994.63,95.4 L995.72,95.1 L996.81,95.3 L997.90,95.6 L998.98,95.4 L1000.07,94.9 L1001.16,95.0 L1002.25,95.3 L1003.34,95.0 L1004.43,94.5 L1005.51,94.2 L1006.60,94.0 L1007.69,94.6 L1008.78,95.4 L1009.87,95.7 L1010.95,95.9 L1012.04,95.2 L1013.13,94.3 L1014.22,94.1 L1015.31,94.2 L1016.40,94.1 L1017.48,93.9 L1018.57,94.4 L1019.66,95.2 L1020.75,94.4 L1021.84,93.4 L1022.93,93.8 L1024.01,94.4 L1025.10,94.3 L1026.19,94.0 L1027.28,94.3 L1028.37,94.7 L1029.46,94.5 L1030.54,94.2 L1031.63,94.0 L1032.72,93.7 L1033.81,94.6 L1034.90,95.6 L1035.98,95.3 L1037.07,94.8 L1038.16,94.5 L1039.25,94.3 L1040.34,94.3 L1041.43,94.3 L1042.51,94.5 L1043.60,94.7 L1044.69,95.1 L1045.78,95.6 L1046.87,94.5 L1047.96,93.4 L1049.04,93.1 L1050.13,92.9 L1051.22,93.8 L1052.31,94.6 L1053.40,94.6 L1054.49,94.6 L1055.57,94.4 L1056.66,94.1 L1057.75,93.8 L1058.84,93.5 L1059.93,93.1 L1061.01,92.8 L1062.10,93.8 L1063.19,94.8 L1064.28,94.0 L1065.37,93.3 L1066.46,93.5 L1067.54,93.7 L1068.63,94.1 L1069.72,94.5 L1070.81,94.3 L1071.90,94.1 L1072.99,93.2 L1074.07,92.4 L1075.16,92.8 L1076.25,93.3 L1077.34,93.5 L1078.43,93.8 L1079.52,93.6 L1080.60,93.5 L1081.69,93.6 L1082.78,93.7 L1083.87,94.1 L1084.96,94.3 L1086.04,93.3 L1087.13,92.5 L1088.22,92.5 L1089.31,92.6 L1090.40,92.7 L1091.49,92.8 L1092.57,92.8 L1093.66,92.8 L1094.75,92.5 L1095.84,92.4 L1096.93,93.3 L1098.02,93.9 L1099.10,93.6 L1100.19,93.1 L1101.28,92.5 L1102.37,92.1 L1103.46,92.3 L1104.55,92.5 L1105.63,92.5 L1106.72,92.5 L1107.81,92.4 L1108.90,92.4 L1109.99,92.4 L1111.07,92.5 L1112.16,92.7 L1113.25,92.9 L1114.34,93.1 L1115.43,93.1 L1116.52,92.8 L1117.60,92.5 L1118.69,92.7 L1119.78,93.0 L1120.87,93.8 L1121.96,94.3 L1123.05,94.4 L1124.13,94.2 L1125.22,93.2 L1126.31,92.7 L1127.40,93.7 L1128.49,94.4 L1129.58,94.3 L1130.66,93.9 L1131.75,92.8 L1132.84,92.2 L1133.93,93.0 L1135.02,93.4 L1136.10,92.9 L1137.19,92.8 L1138.28,93.3 L1139.37,93.6 L1140.46,93.7 L1141.55,93.6 L1142.63,93.0 L1143.72,93.0 L1144.81,94.0 L1145.90,94.3 L1146.99,93.3 L1148.08,92.7 L1149.16,92.8 L1150.25,93.0 L1151.34,93.1 L1152.43,93.2 L1153.52,93.3 L1154.61,93.3 L1155.69,93.4 L1156.78,93.1 L1157.87,92.6 L1158.96,92.7 L1160.05,93.7 L1161.13,94.0 L1162.22,93.1 L1163.31,92.7 L1164.40,93.0 L1165.49,93.3 L1166.58,93.6 L1167.66,93.5 L1168.75,92.8 L1169.84,92.9 L1170.93,93.9 L1172.02,94.2 L1173.11,93.7 L1174.19,93.3 L1175.28,93.1 L1176.37,93.4 L1177.46,94.0 L1178.55,93.9 L1179.64,92.8 L1180.72,92.4 L1181.81,92.7 L1182.90,92.9 L1183.99,93.1 L1185.08,93.2 L1186.16,93.4 L1187.25,93.4 L1188.34,93.1 L1189.43,93.0 L1190.52,92.8 L1191.61,93.2 L1192.69,94.1 L1193.78,93.9 L1194.87,92.9 L1195.96,92.5 L1197.05,92.6 L1198.14,93.2 L1199.22,94.2 L1200.31,94.0 L1201.40,93.0 L1202.49,92.9 L1203.58,93.6 L1204.67,94.0 L1205.75,94.4 L1206.84,94.4 L1207.93,94.1 L1209.02,93.6 L1210.11,92.9 L1211.19,92.9 L1212.28,93.2 L1213.37,93.5 L1214.46,93.8 L1215.55,93.5 L1216.64,93.1 L1217.72,93.4 L1218.81,94.1 L1219.90,94.4 L1220.99,94.5 L1222.08,94.4 L1223.17,94.4 L1224.25,94.7 L1225.34,95.2 L1226.43,95.1 L1227.52,94.8 L1228.61,94.9 L1229.70,95.1 L1230.78,94.9 L1231.87,94.5 L1232.96,95.0 L1234.05,95.8 L1235.14,95.6 L1236.22,94.9 L1237.31,95.1 L1238.40,95.6 L1239.49,95.7 L1240.58,95.7 L1241.67,95.4 L1242.75,95.0 L1243.84,94.7 L1244.93,94.4 L1246.02,94.6 L1247.11,94.9 L1248.20,94.8 L1249.28,94.5 L1250.37,94.4 L1251.46,94.4 L1252.55,94.3 L1253.64,94.2 L1254.73,94.4 L1255.81,94.6 L1256.90,94.3 L1257.99,94.0 L1259.08,94.8 L1260.17,95.8 L1261.25,95.8 L1262.34,95.6 L1263.43,94.8 L1264.52,93.9 L1265.61,94.6 L1266.70,95.7 L1267.78,95.1 L1268.87,94.1 L1269.96,94.9 L1271.05,96.0 L1272.14,95.8 L1273.23,95.4 L1274.31,94.8 L1275.40,94.3 L1276.49,95.1 L1277.58,96.2 L1278.67,95.9 L1279.76,95.5 L1280.84,94.9 L1281.93,94.3 L1283.02,94.5 L1284.11,94.8 L1285.20,95.3 L1286.28,95.8 L1287.37,95.8 L1288.46,95.9 L1289.55,95.2 L1290.64,94.5 L1291.73,94.8 L1292.81,95.1 L1293.90,94.7 L1294.99,94.3 L1296.08,94.5 L1297.17,94.6 L1298.26,94.4 L1299.34,94.2 L1300.43,94.3 L1301.52,94.5 L1302.61,95.2 L1303.70,95.9" fill="none" stroke="#008000" stroke-width="6.5" stroke-linejoin="round" stroke-linecap="butt"/>
<polygon points="243.1,675.4 224.6,643.4 261.6,643.4" fill="#008000"/>
<polygon points="305.6,588.7 287.1,556.7 324.1,556.7" fill="#008000"/>
<polygon points="368.2,561.2 349.7,529.2 386.7,529.2" fill="#008000"/>
<polygon points="430.8,694.5 412.3,662.5 449.3,662.5" fill="#008000"/>
<polygon points="493.4,902.0 474.9,870.0 511.9,870.0" fill="#008000"/>
<polygon points="555.9,959.8 537.4,927.8 574.4,927.8" fill="#008000"/>
<polygon points="618.5,959.8 600.0,927.8 637.0,927.8" fill="#008000"/>
<polygon points="681.1,959.8 662.6,927.8 699.6,927.8" fill="#008000"/>
<polygon points="743.7,959.8 725.2,927.8 762.2,927.8" fill="#008000"/>
<polygon points="806.2,827.0 787.7,795.0 824.7,795.0" fill="#008000"/>
<polygon points="868.8,229.6 850.3,197.6 887.3,197.6" fill="#008000"/>
<polygon points="931.4,127.2 912.9,95.2 949.9,95.2" fill="#008000"/>
<polygon points="994.0,117.2 975.5,85.2 1012.5,85.2" fill="#008000"/>
<polygon points="1056.5,113.0 1038.0,81.0 1075.0,81.0" fill="#008000"/>
<polygon points="1119.1,115.1 1100.6,83.1 1137.6,83.1" fill="#008000"/>
<polygon points="1181.7,115.1 1163.2,83.1 1200.2,83.1" fill="#008000"/>
<polygon points="1244.3,113.0 1225.8,81.0 1262.8,81.0" fill="#008000"/>
<polygon points="1306.8,113.0 1288.3,81.0 1325.3,81.0" fill="#008000"/>
<polygon points="1369.4,113.0 1350.9,81.0 1387.9,81.0" fill="#008000"/>
<polygon points="1432.0,115.5 1413.5,83.5 1450.5,83.5" fill="#008000"/>
<polygon points="1494.6,115.5 1476.1,83.5 1513.1,83.5" fill="#008000"/>
</g>
</g>
<text transform="translate(215.5 952.8) scale(0.955 1.040)" text-anchor="end" style="font-size:46.0px;letter-spacing:2.70px;" filter="url(#hb)">0</text>
<text transform="translate(215.5 786.9) scale(0.955 1.040)" text-anchor="end" style="font-size:46.0px;letter-spacing:2.70px;" filter="url(#hb)">20</text>
<text transform="translate(215.5 619.6) scale(0.955 1.040)" text-anchor="end" style="font-size:46.0px;letter-spacing:2.70px;" filter="url(#hb)">40</text>
<text transform="translate(215.5 453.3) scale(0.955 1.040)" text-anchor="end" style="font-size:46.0px;letter-spacing:2.70px;" filter="url(#hb)">60</text>
<text transform="translate(215.5 285.5) scale(0.955 1.040)" text-anchor="end" style="font-size:46.0px;letter-spacing:2.70px;" filter="url(#hb)">80</text>
<text transform="translate(215.5 120.5) scale(0.955 1.040)" text-anchor="end" style="font-size:46.0px;letter-spacing:2.70px;" filter="url(#hb)">100</text>
<g transform="translate(215.5 120.5) scale(0.955 1.040)" fill="#fff"><rect x="-84.35" y="-5.09" width="9.22" height="5.89"/><rect x="-66.78" y="-5.09" width="7.83" height="5.89"/></g>
<text transform="translate(246.9 1007.8) scale(0.955 1.035)" text-anchor="middle" style="font-size:46.0px;letter-spacing:2.70px;" filter="url(#hb)">300</text>
<text transform="translate(559.8 1007.8) scale(0.955 1.035)" text-anchor="middle" style="font-size:46.0px;letter-spacing:2.70px;" filter="url(#hb)">400</text>
<text transform="translate(872.6 1007.8) scale(0.955 1.035)" text-anchor="middle" style="font-size:46.0px;letter-spacing:2.70px;" filter="url(#hb)">500</text>
<text transform="translate(1185.5 1007.8) scale(0.955 1.035)" text-anchor="middle" style="font-size:46.0px;letter-spacing:2.70px;" filter="url(#hb)">600</text>
<text transform="translate(1498.4 1007.8) scale(0.955 1.035)" text-anchor="middle" style="font-size:46.0px;letter-spacing:2.70px;" filter="url(#hb)">700</text>
<text transform="translate(870.6 1093.8) scale(1.043 1.000)" text-anchor="middle" style="font-size:51.0px;" filter="url(#hb)">Wavelength (nm)</text>
<text transform="translate(74.2 456.2) rotate(-90) scale(1.064 1.140)" text-anchor="middle" style="font-size:51.0px;stroke-width:0.80px;">Transmittance (%)</text>
<line x1="1075.3" y1="637.2" x2="1179.3" y2="637.2" stroke="#000000" stroke-width="6.6" stroke-linecap="round"/>
<text transform="translate(1190.5 653.0) scale(1.034 1.070)" text-anchor="start" style="font-size:47.0px;letter-spacing:0.30px;" filter="url(#hb)">Y138</text>
<g transform="translate(1190.5 653.0) scale(1.034 1.070)" fill="#fff"><rect x="32.21" y="-5.20" width="9.39" height="6.00"/><rect x="50.09" y="-5.20" width="7.99" height="6.00"/></g>
<line x1="1075.3" y1="698.6" x2="1179.3" y2="698.6" stroke="#ff0000" stroke-width="6.6" stroke-linecap="round"/>
<rect x="1113.3" y="684.6" width="28.0" height="28.0" fill="#ff0000"/>
<text transform="translate(1190.5 712.6) scale(1.034 1.020)" text-anchor="start" style="font-size:47.0px;letter-spacing:0.30px;" filter="url(#hb)">M-PAMOPC</text>
<line x1="1075.3" y1="760.2" x2="1179.3" y2="760.2" stroke="#0000ff" stroke-width="6.6" stroke-linecap="round"/>
<circle cx="1127.3" cy="760.2" r="15.7" fill="#0000ff"/>
<text transform="translate(1190.5 775.2) scale(1.034 1.040)" text-anchor="start" style="font-size:47.0px;letter-spacing:0.30px;" filter="url(#hb)">F-PAMOPC</text>
<line x1="1075.3" y1="822.0" x2="1179.3" y2="822.0" stroke="#ff00ff" stroke-width="6.6" stroke-linecap="round"/>
<polygon points="1127.3,799.9 1108.8,833.1 1145.8,833.1" fill="#ff00ff"/>
<text transform="translate(1190.5 835.8) scale(1.034 1.040)" text-anchor="start" style="font-size:47.0px;letter-spacing:0.30px;" filter="url(#hb)">Cl-PAMOPC</text>
<line x1="1075.3" y1="883.0" x2="1179.3" y2="883.0" stroke="#008000" stroke-width="6.6" stroke-linecap="round"/>
<polygon points="1127.3,904.3 1108.8,872.3 1145.8,872.3" fill="#008000"/>
<text transform="translate(1190.5 897.4) scale(1.034 1.020)" text-anchor="start" style="font-size:47.0px;letter-spacing:0.30px;" filter="url(#hb)">Br-PAMOPC</text>
</svg></body></html>
